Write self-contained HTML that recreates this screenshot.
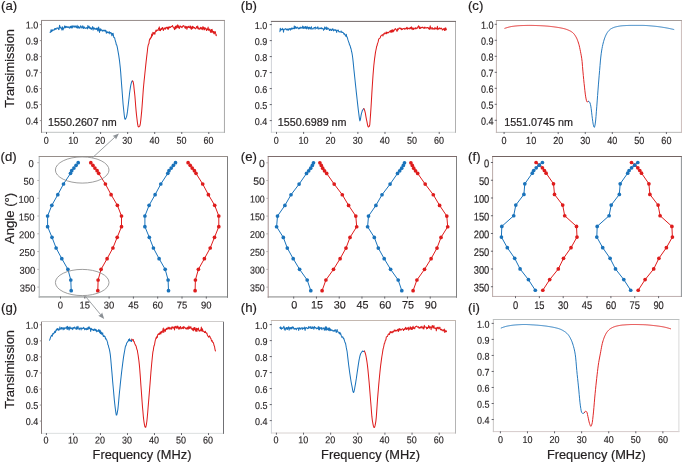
<!DOCTYPE html>
<html lang="en">
<head>
<meta charset="utf-8">
<title>Transmission spectra and angle dependence</title>
<style>
html,body{margin:0;padding:0;background:#fff;}
body{width:685px;height:462px;overflow:hidden;font-family:"Liberation Sans",Arial,Helvetica,sans-serif;}
svg{display:block;}
svg text{font-family:"Liberation Sans",Arial,Helvetica,sans-serif;}
</style>
</head>
<body>
<svg width="685" height="462" viewBox="0 0 685 462" font-family="&quot;Liberation Sans&quot;, Arial, Helvetica, sans-serif">
<polyline points="49.9,32.16 50.3,32.39 50.7,31.62 51.1,29.65 51.5,31.73 51.9,31.02 52.3,29.77 52.7,30.75 53.1,30.34 53.5,30.09 53.9,29.64 54.3,30.02 54.7,28.51 55.1,28.96 55.5,28.48 55.9,29.48 56.3,28.78 56.7,28.32 57.1,27.72 57.5,28.19 57.9,28.4 58.3,28.04 58.7,29.63 59.1,29.26 59.5,25.3 59.9,26.11 60.3,27.86 60.7,27.56 61.1,28.18 61.5,28.14 61.9,30.09 62.3,26.66 62.7,27.39 63.1,29.9 63.5,28.4 63.9,28.38 64.3,27.11 64.7,25.88 65.1,27.75 65.5,27.66 65.9,26.22 66.3,26.76 66.7,27.36 67.1,26.41 67.5,27.26 67.9,27.43 68.3,27.32 68.7,26.72 69.1,27.84 69.5,28.11 69.9,27.48 70.3,26.25 70.7,27.84 71.1,26.52 71.5,27.94 71.9,25.86 72.3,27.93 72.7,26.93 73.1,25.62 73.5,26.59 73.9,26.96 74.3,27.19 74.7,25.87 75.1,25.74 75.5,27.12 75.9,26.43 76.3,27.19 76.7,27.76 77.1,25.25 77.5,27.28 77.9,28.33 78.3,26.76 78.7,26.25 79.1,27.93 79.5,27.44 79.9,28.15 80.3,26.88 80.7,25.73 81.1,27.2 81.5,26.89 81.9,28.2 82.3,27.63 82.7,25.74 83.1,26.23 83.5,28.44 83.9,28.25 84.3,26.89 84.7,27.59 85.1,28.08 85.5,28.13 85.9,28.58 86.3,27.95 86.7,27.61 87.1,27.46 87.5,28.86 87.9,25.41 88.3,27.66 88.7,27.86 89.1,26.36 89.5,28.24 89.9,27.23 90.3,28.85 90.7,27.85 91.1,28.72 91.5,29.34 91.9,28.5 92.3,27.23 92.7,26.61 93.1,30.1 93.5,28.21 93.9,27.68 94.3,28.63 94.7,28.36 95.1,29.55 95.5,28.78 95.9,28.86 96.3,28.19 96.7,29.54 97.1,28.06 97.5,29.95 97.9,30.96 98.3,27.87 98.7,26.99 99.1,30.34 99.5,32.48 99.9,28.86 100.3,28.71 100.7,30.74 101.1,29.35 101.5,29.81 101.9,30.08 102.3,31.11 102.7,30.23 103.1,31.06 103.5,30.69 103.9,30.1 104.3,30.76 104.7,30.22 105.1,31.34 105.5,30.27 105.9,30.43 106.3,33.24 106.7,31.79 107.1,31.92 107.5,32.66 107.9,31.83 108.3,32.19 108.7,33.04 109.1,33.05 109.5,31.73 109.9,33.96 110.3,32.68 110.7,32.41 111.1,32.8 111.5,33.56 111.9,35.83 112.3,33.4 112.7,35.05 113.1,33.35 113.5,35.98 113.9,37.55 114.3,37.43 114.7,38.11 115.1,39.88 115.5,41.37 115.9,42.53 116.3,44.61 116.7,44.99 117.1,46.29 117.5,48.46 117.9,50.57 118.3,52.87 118.7,55.21 119.1,57.88 119.5,60.62 119.9,64.26 120.3,67.82 120.7,72.38 121.1,77.88 121.5,83.29 121.9,88.36 122.3,93.76 122.7,98.96 123.1,104.29 123.5,108.05 123.9,111.74 124.3,115.48 124.7,118.34 125.1,119.2 125.5,119.14 125.9,118.3 126.3,117.41 126.7,116.06 127.1,113.85 127.5,111.38 127.9,107.73 128.3,104.47 128.7,101.01 129.1,97.54 129.5,93.71 129.9,90.74 130.3,88.15 130.7,85.68 131.1,83.94 131.5,82.27 131.9,81.41 132.3,80.9 132.5,81.24" fill="none" stroke="#1a73bb" stroke-width="1.02" stroke-linejoin="round" stroke-linecap="round"/>
<polyline points="132.5,81.02 132.9,81.23 133.3,82.55 133.7,84.91 134.1,88.83 134.5,92.37 134.9,96.05 135.3,101.06 135.7,106.2 136.1,110.91 136.5,114.87 136.9,118.24 137.3,121.66 137.7,124.47 138.1,126.49 138.5,126.88 138.9,126.84 139.3,126.42 139.7,126.13 140.1,125.03 140.5,122.76 140.9,119.16 141.3,115.16 141.7,111.12 142.1,106.04 142.5,100.59 142.9,95 143.3,89.39 143.7,84.97 144.1,80.87 144.5,77.23 144.9,73.28 145.3,69.53 145.7,65.67 146.1,61.89 146.5,58.38 146.9,54.89 147.3,51.73 147.7,47.78 148.1,45.55 148.5,44.18 148.9,43.73 149.3,40.66 149.7,39.24 150.1,38.59 150.5,38.94 150.9,37.09 151.3,37.69 151.7,34.01 152.1,36.12 152.5,35.4 152.9,32.36 153.3,33.41 153.7,34.05 154.1,32.48 154.5,33.1 154.9,34.23 155.3,31.72 155.7,30.86 156.1,30.08 156.5,31.33 156.9,30.21 157.3,30.02 157.7,29.9 158.1,30.52 158.5,28.56 158.9,27.94 159.3,26.87 159.7,30.58 160.1,29.31 160.5,30.73 160.9,29.06 161.3,28.22 161.7,29.44 162.1,28.79 162.5,27.5 162.9,27.83 163.3,30.55 163.7,29.01 164.1,29.02 164.5,28.23 164.9,27.72 165.3,29.31 165.7,28.2 166.1,27.43 166.5,28.01 166.9,27.12 167.3,28.2 167.7,29.1 168.1,26.96 168.5,29.26 168.9,26.99 169.3,27.78 169.7,26.67 170.1,27.24 170.5,27.46 170.9,26.9 171.3,26.56 171.7,26.53 172.1,26.34 172.5,25.51 172.9,26.85 173.3,27.52 173.7,28.03 174.1,27.73 174.5,29.61 174.9,27.35 175.3,26.51 175.7,28.94 176.1,25.85 176.5,27.95 176.9,25.91 177.3,27.27 177.7,24.82 178.1,27.81 178.5,26.69 178.9,25.83 179.3,28.6 179.7,27.63 180.1,26.86 180.5,26.03 180.9,26.76 181.3,26.63 181.7,27.56 182.1,27.64 182.5,26.11 182.9,26.24 183.3,26.27 183.7,25.44 184.1,26.25 184.5,26.81 184.9,27.66 185.3,28.35 185.7,26.15 186.1,27.62 186.5,26.61 186.9,29.3 187.3,27.11 187.7,27.73 188.1,26.27 188.5,26.44 188.9,27.55 189.3,26.97 189.7,27.79 190.1,25.82 190.5,28.19 190.9,26.58 191.3,29.37 191.7,27.29 192.1,28.78 192.5,26.2 192.9,28.15 193.3,26.81 193.7,27.27 194.1,27.84 194.5,27.52 194.9,28.16 195.3,28.71 195.7,28.65 196.1,27.91 196.5,26.61 196.9,27.23 197.3,27.91 197.7,25.93 198.1,28.98 198.5,27.98 198.9,28.01 199.3,29.31 199.7,29.05 200.1,28.61 200.5,27.36 200.9,28.77 201.3,28.84 201.7,27.58 202.1,29.64 202.5,29.11 202.9,26.54 203.3,28.77 203.7,27.34 204.1,29.9 204.5,29.59 204.9,27.63 205.3,27.9 205.7,28.98 206.1,28.67 206.5,30.58 206.9,29.81 207.3,28.8 207.7,29.77 208.1,27.11 208.5,29.67 208.9,30.38 209.3,29.44 209.7,29.06 210.1,30.6 210.5,32.28 210.9,30.67 211.3,29.52 211.7,32.47 212.1,29.24 212.5,32 212.9,31.12 213.3,32.98 213.7,31.41 214.1,34.01 214.5,33.27 214.9,31.56 215.3,31.71 215.7,33.77 216.1,35.75 216.5,35.02" fill="none" stroke="#de1c1c" stroke-width="1.02" stroke-linejoin="round" stroke-linecap="round"/>
<line x1="41" y1="132.3" x2="224.95" y2="132.3" stroke="#c0c4c4" stroke-width="1.0"/>
<line x1="224.45" y1="20.45" x2="224.45" y2="132.8" stroke="#a8a8a8" stroke-width="1.0"/>
<line x1="41.5" y1="20.45" x2="41.5" y2="132.8" stroke="#8c8484" stroke-width="1.0"/>
<line x1="41" y1="20.45" x2="224.95" y2="20.45" stroke="#968c8a" stroke-width="1.0"/>
<line x1="46.5" y1="132" x2="46.5" y2="134" stroke="#55555c" stroke-width="0.9"/>
<text transform="translate(46.2 143.8) scale(0.9 1) rotate(0.03)" font-size="10.0" text-anchor="middle" fill="#231f20" stroke="#231f20" stroke-width="0.15">0</text>
<line x1="73.55" y1="132" x2="73.55" y2="134" stroke="#55555c" stroke-width="0.9"/>
<text transform="translate(73.25 143.8) scale(0.9 1) rotate(0.03)" font-size="10.0" text-anchor="middle" fill="#231f20" stroke="#231f20" stroke-width="0.15">10</text>
<line x1="100.6" y1="132" x2="100.6" y2="134" stroke="#55555c" stroke-width="0.9"/>
<text transform="translate(100.3 143.8) scale(0.9 1) rotate(0.03)" font-size="10.0" text-anchor="middle" fill="#231f20" stroke="#231f20" stroke-width="0.15">20</text>
<line x1="127.65" y1="132" x2="127.65" y2="134" stroke="#55555c" stroke-width="0.9"/>
<text transform="translate(127.35 143.8) scale(0.9 1) rotate(0.03)" font-size="10.0" text-anchor="middle" fill="#231f20" stroke="#231f20" stroke-width="0.15">30</text>
<line x1="154.7" y1="132" x2="154.7" y2="134" stroke="#55555c" stroke-width="0.9"/>
<text transform="translate(154.4 143.8) scale(0.9 1) rotate(0.03)" font-size="10.0" text-anchor="middle" fill="#231f20" stroke="#231f20" stroke-width="0.15">40</text>
<line x1="181.75" y1="132" x2="181.75" y2="134" stroke="#55555c" stroke-width="0.9"/>
<text transform="translate(181.45 143.8) scale(0.9 1) rotate(0.03)" font-size="10.0" text-anchor="middle" fill="#231f20" stroke="#231f20" stroke-width="0.15">50</text>
<line x1="208.8" y1="132" x2="208.8" y2="134" stroke="#55555c" stroke-width="0.9"/>
<text transform="translate(208.5 143.8) scale(0.9 1) rotate(0.03)" font-size="10.0" text-anchor="middle" fill="#231f20" stroke="#231f20" stroke-width="0.15">60</text>
<line x1="39.8" y1="24.6" x2="41" y2="24.6" stroke="#8f8a8a" stroke-width="0.9"/>
<text transform="translate(38.2 28.6) scale(0.9 1) rotate(0.03)" font-size="10.0" text-anchor="end" fill="#231f20" stroke="#231f20" stroke-width="0.15">1.0</text>
<line x1="39.8" y1="40.6" x2="41" y2="40.6" stroke="#8f8a8a" stroke-width="0.9"/>
<text transform="translate(38.2 44.6) scale(0.9 1) rotate(0.03)" font-size="10.0" text-anchor="end" fill="#231f20" stroke="#231f20" stroke-width="0.15">0.9</text>
<line x1="39.8" y1="56.6" x2="41" y2="56.6" stroke="#8f8a8a" stroke-width="0.9"/>
<text transform="translate(38.2 60.6) scale(0.9 1) rotate(0.03)" font-size="10.0" text-anchor="end" fill="#231f20" stroke="#231f20" stroke-width="0.15">0.8</text>
<line x1="39.8" y1="72.6" x2="41" y2="72.6" stroke="#8f8a8a" stroke-width="0.9"/>
<text transform="translate(38.2 76.6) scale(0.9 1) rotate(0.03)" font-size="10.0" text-anchor="end" fill="#231f20" stroke="#231f20" stroke-width="0.15">0.7</text>
<line x1="39.8" y1="88.6" x2="41" y2="88.6" stroke="#8f8a8a" stroke-width="0.9"/>
<text transform="translate(38.2 92.6) scale(0.9 1) rotate(0.03)" font-size="10.0" text-anchor="end" fill="#231f20" stroke="#231f20" stroke-width="0.15">0.6</text>
<line x1="39.8" y1="104.6" x2="41" y2="104.6" stroke="#8f8a8a" stroke-width="0.9"/>
<text transform="translate(38.2 108.6) scale(0.9 1) rotate(0.03)" font-size="10.0" text-anchor="end" fill="#231f20" stroke="#231f20" stroke-width="0.15">0.5</text>
<line x1="39.8" y1="120.6" x2="41" y2="120.6" stroke="#8f8a8a" stroke-width="0.9"/>
<text transform="translate(38.2 124.6) scale(0.9 1) rotate(0.03)" font-size="10.0" text-anchor="end" fill="#231f20" stroke="#231f20" stroke-width="0.15">0.4</text>
<text x="48" y="126" font-size="10.75" text-anchor="start" fill="#231f20" stroke="#231f20" stroke-width="0.2">1550.2607 nm</text>
<text x="1" y="10.3" font-size="13.2" text-anchor="start" fill="#231f20" stroke="#231f20" stroke-width="0.2">(a)</text>
<text x="14.4" y="68.38" font-size="12.85" text-anchor="middle" fill="#231f20" stroke="#231f20" stroke-width="0.2" transform="rotate(-90 14.4 68.38)">Transimission</text>
<polyline points="279.9,31.63 280.3,28.14 280.7,30.32 281.1,29.53 281.5,29.57 281.9,29.7 282.3,28.3 282.7,29.6 283.1,29.07 283.5,32.16 283.9,29.79 284.3,29.31 284.7,29.31 285.1,28.98 285.5,28.64 285.9,29.08 286.3,29.69 286.7,29.1 287.1,29.94 287.5,29.02 287.9,29.14 288.3,30.22 288.7,29.41 289.1,28.55 289.5,28.73 289.9,29.2 290.3,30.18 290.7,28.45 291.1,28.4 291.5,29.26 291.9,27.77 292.3,28.15 292.7,28.96 293.1,28.67 293.5,28.24 293.9,28.61 294.3,25.93 294.7,28.77 295.1,27.24 295.5,26.66 295.9,28.09 296.3,28.37 296.7,27.49 297.1,27 297.5,27.82 297.9,27.76 298.3,28.86 298.7,28.36 299.1,27.95 299.5,28.64 299.9,27.66 300.3,27.13 300.7,28.27 301.1,28.27 301.5,27.68 301.9,27.26 302.3,28.03 302.7,26 303.1,28.4 303.5,28.26 303.9,26.67 304.3,27.95 304.7,27.2 305.1,28.5 305.5,26.41 305.9,27.26 306.3,28.49 306.7,28.84 307.1,26.36 307.5,27.61 307.9,28.24 308.3,27.55 308.7,29.2 309.1,27.13 309.5,28.29 309.9,27.25 310.3,29.1 310.7,28.03 311.1,27.78 311.5,26.77 311.9,29.33 312.3,28.64 312.7,28.65 313.1,28.94 313.5,28.36 313.9,27.62 314.3,27.51 314.7,27.51 315.1,29.15 315.5,27.03 315.9,27.69 316.3,27.9 316.7,28.32 317.1,28.59 317.5,27.23 317.9,26.88 318.3,28.19 318.7,29.11 319.1,28.78 319.5,28.38 319.9,27.99 320.3,28.46 320.7,28.08 321.1,28.88 321.5,27.69 321.9,28.4 322.3,28.23 322.7,28.74 323.1,28.53 323.5,30.3 323.9,29.54 324.3,29.57 324.7,26.95 325.1,28.26 325.5,28.1 325.9,28.99 326.3,26.93 326.7,29.56 327.1,29.53 327.5,27.8 327.9,28.09 328.3,28.28 328.7,28.96 329.1,29.47 329.5,30.58 329.9,28.95 330.3,29.73 330.7,29.33 331.1,30.6 331.5,29.9 331.9,30.44 332.3,28.68 332.7,29.42 333.1,29.04 333.5,30.86 333.9,30.32 334.3,29.69 334.7,29.68 335.1,30.49 335.5,29.7 335.9,29.64 336.3,30.82 336.7,32.42 337.1,30.51 337.5,30.4 337.9,30.07 338.3,30.08 338.7,31.62 339.1,32 339.5,31.52 339.9,31.9 340.3,31.89 340.7,32.06 341.1,30.97 341.5,31.94 341.9,32.55 342.3,32.07 342.7,32.51 343.1,32.48 343.5,33.07 343.9,34.19 344.3,33.56 344.7,34.04 345.1,35.04 345.5,35.27 345.9,36.35 346.3,34.24 346.7,36.82 347.1,36.78 347.5,38.14 347.9,39.63 348.3,40.92 348.7,42.11 349.1,42.92 349.5,44.79 349.9,45.19 350.3,46.45 350.7,48.03 351.1,48.98 351.5,51.24 351.9,52.7 352.3,54.99 352.7,57.71 353.1,61.35 353.5,65.41 353.9,69.5 354.3,73.16 354.7,76.97 355.1,80.71 355.5,84.66 355.9,88.24 356.3,92.14 356.7,95.64 357.1,99.23 357.5,102.89 357.9,106.4 358.3,109.84 358.7,112.94 359.1,116.13 359.5,119.14 359.9,120.87 360.3,120.1 360.7,117.69 361.1,115.13 361.5,113.35 361.9,112.06 362.3,110.6 362.7,109.99 363.1,109.31 363.5,108.96 363.8,108.69" fill="none" stroke="#1a73bb" stroke-width="1.02" stroke-linejoin="round" stroke-linecap="round"/>
<polyline points="363.8,108.64 364.2,109.22 364.6,110.25 365,111.58 365.4,113.44 365.8,115.92 366.2,118.09 366.6,120.04 367,121.93 367.4,124.12 367.8,125.79 368.2,126.9 368.6,126.89 369,126.66 369.4,126.01 369.8,124.53 370.2,119.25 370.6,113.59 371,107.7 371.4,101.06 371.8,94.13 372.2,87.42 372.6,81.46 373,75.59 373.4,70.43 373.8,65.74 374.2,62.08 374.6,58.64 375,55.89 375.4,52.81 375.8,50.77 376.2,48.87 376.6,46.52 377,45.77 377.4,43.9 377.8,42.88 378.2,41.63 378.6,39.52 379,38.75 379.4,38.38 379.8,38.31 380.2,37.8 380.6,36.3 381,35.88 381.4,35.32 381.8,35.08 382.2,34.97 382.6,34.74 383,35.98 383.4,33.94 383.8,33.85 384.2,34.16 384.6,32.93 385,33.15 385.4,33.24 385.8,33.63 386.2,31.91 386.6,33.75 387,32.31 387.4,32.54 387.8,32.9 388.2,32.61 388.6,32.76 389,31.95 389.4,31.67 389.8,31.79 390.2,30.68 390.6,32.21 391,30.59 391.4,30.11 391.8,32.48 392.2,30.72 392.6,29.83 393,31.99 393.4,30.25 393.8,31.19 394.2,29.68 394.6,30.01 395,28.84 395.4,28.58 395.8,29.18 396.2,29.76 396.6,30.32 397,31.44 397.4,28.76 397.8,30.2 398.2,28.9 398.6,29.15 399,28.06 399.4,27.98 399.8,28.43 400.2,28.04 400.6,28.86 401,28.27 401.4,29.67 401.8,28.79 402.2,28.74 402.6,29.42 403,28.92 403.4,28.46 403.8,28.39 404.2,28.33 404.6,29.2 405,28.95 405.4,28.61 405.8,28.91 406.2,27.88 406.6,28.65 407,27.18 407.4,29.23 407.8,28.27 408.2,28.32 408.6,28.61 409,28.13 409.4,27.93 409.8,28.99 410.2,28.17 410.6,27.38 411,28.37 411.4,26.75 411.8,29.25 412.2,27.86 412.6,28 413,29.63 413.4,29.53 413.8,27.98 414.2,28.34 414.6,28.66 415,29.08 415.4,27.7 415.8,27.87 416.2,28.67 416.6,27.93 417,28.27 417.4,28.14 417.8,26.82 418.2,27.01 418.6,25.65 419,27.43 419.4,28.62 419.8,26.77 420.2,28.53 420.6,28.35 421,27.56 421.4,27.6 421.8,27.68 422.2,26.98 422.6,27.42 423,27.62 423.4,28.13 423.8,28.28 424.2,27.15 424.6,28.35 425,27.17 425.4,27.65 425.8,28.08 426.2,27.81 426.6,27.75 427,28.07 427.4,27.48 427.8,27.43 428.2,27.79 428.6,28.69 429,27.91 429.4,29.44 429.8,28.19 430.2,25.82 430.6,27.74 431,29.34 431.4,28.12 431.8,27.8 432.2,27.5 432.6,29.16 433,28.94 433.4,28.72 433.8,28.56 434.2,29.34 434.6,28.9 435,27.38 435.4,28.9 435.8,28.48 436.2,28.3 436.6,28.98 437,28.45 437.4,26.26 437.8,29.66 438.2,29.3 438.6,28.46 439,28.31 439.4,28.8 439.8,27.7 440.2,28.94 440.6,28.57 441,28.53 441.4,28.14 441.8,28.37 442.2,29.76 442.6,29.98 443,29.4 443.4,29.04 443.8,28.47 444.2,29.72 444.6,30.44 445,28.08 445.4,30.22 445.8,27.78 446.2,29.2 446.5,29.79" fill="none" stroke="#de1c1c" stroke-width="1.02" stroke-linejoin="round" stroke-linecap="round"/>
<line x1="270.9" y1="132.25" x2="456" y2="132.25" stroke="#d7dada" stroke-width="1.0"/>
<line x1="455.5" y1="21.4" x2="455.5" y2="132.75" stroke="#b0b0b0" stroke-width="1.0"/>
<line x1="271.4" y1="21.4" x2="271.4" y2="132.75" stroke="#d0d3d8" stroke-width="1.0"/>
<line x1="270.9" y1="21.4" x2="456" y2="21.4" stroke="#6e6464" stroke-width="1.0"/>
<line x1="276.5" y1="131.95" x2="276.5" y2="133.95" stroke="#55555c" stroke-width="0.9"/>
<text transform="translate(276.3 143.75) scale(0.9 1) rotate(0.03)" font-size="10.0" text-anchor="middle" fill="#231f20" stroke="#231f20" stroke-width="0.15">0</text>
<line x1="303.62" y1="131.95" x2="303.62" y2="133.95" stroke="#55555c" stroke-width="0.9"/>
<text transform="translate(303.42 143.75) scale(0.9 1) rotate(0.03)" font-size="10.0" text-anchor="middle" fill="#231f20" stroke="#231f20" stroke-width="0.15">10</text>
<line x1="330.74" y1="131.95" x2="330.74" y2="133.95" stroke="#55555c" stroke-width="0.9"/>
<text transform="translate(330.54 143.75) scale(0.9 1) rotate(0.03)" font-size="10.0" text-anchor="middle" fill="#231f20" stroke="#231f20" stroke-width="0.15">20</text>
<line x1="357.86" y1="131.95" x2="357.86" y2="133.95" stroke="#55555c" stroke-width="0.9"/>
<text transform="translate(357.66 143.75) scale(0.9 1) rotate(0.03)" font-size="10.0" text-anchor="middle" fill="#231f20" stroke="#231f20" stroke-width="0.15">30</text>
<line x1="384.98" y1="131.95" x2="384.98" y2="133.95" stroke="#55555c" stroke-width="0.9"/>
<text transform="translate(384.78 143.75) scale(0.9 1) rotate(0.03)" font-size="10.0" text-anchor="middle" fill="#231f20" stroke="#231f20" stroke-width="0.15">40</text>
<line x1="412.1" y1="131.95" x2="412.1" y2="133.95" stroke="#55555c" stroke-width="0.9"/>
<text transform="translate(411.9 143.75) scale(0.9 1) rotate(0.03)" font-size="10.0" text-anchor="middle" fill="#231f20" stroke="#231f20" stroke-width="0.15">50</text>
<line x1="439.22" y1="131.95" x2="439.22" y2="133.95" stroke="#55555c" stroke-width="0.9"/>
<text transform="translate(439.02 143.75) scale(0.9 1) rotate(0.03)" font-size="10.0" text-anchor="middle" fill="#231f20" stroke="#231f20" stroke-width="0.15">60</text>
<line x1="269.7" y1="24.6" x2="271.8" y2="24.6" stroke="#55555c" stroke-width="0.9"/>
<text transform="translate(267.2 28.9) scale(0.9 1) rotate(0.03)" font-size="10.0" text-anchor="end" fill="#231f20" stroke="#231f20" stroke-width="0.15">1.0</text>
<line x1="269.7" y1="40.6" x2="271.8" y2="40.6" stroke="#55555c" stroke-width="0.9"/>
<text transform="translate(267.2 44.9) scale(0.9 1) rotate(0.03)" font-size="10.0" text-anchor="end" fill="#231f20" stroke="#231f20" stroke-width="0.15">0.9</text>
<line x1="269.7" y1="56.6" x2="271.8" y2="56.6" stroke="#55555c" stroke-width="0.9"/>
<text transform="translate(267.2 60.9) scale(0.9 1) rotate(0.03)" font-size="10.0" text-anchor="end" fill="#231f20" stroke="#231f20" stroke-width="0.15">0.8</text>
<line x1="269.7" y1="72.6" x2="271.8" y2="72.6" stroke="#55555c" stroke-width="0.9"/>
<text transform="translate(267.2 76.9) scale(0.9 1) rotate(0.03)" font-size="10.0" text-anchor="end" fill="#231f20" stroke="#231f20" stroke-width="0.15">0.7</text>
<line x1="269.7" y1="88.6" x2="271.8" y2="88.6" stroke="#55555c" stroke-width="0.9"/>
<text transform="translate(267.2 92.9) scale(0.9 1) rotate(0.03)" font-size="10.0" text-anchor="end" fill="#231f20" stroke="#231f20" stroke-width="0.15">0.6</text>
<line x1="269.7" y1="104.6" x2="271.8" y2="104.6" stroke="#55555c" stroke-width="0.9"/>
<text transform="translate(267.2 108.9) scale(0.9 1) rotate(0.03)" font-size="10.0" text-anchor="end" fill="#231f20" stroke="#231f20" stroke-width="0.15">0.5</text>
<line x1="269.7" y1="120.6" x2="271.8" y2="120.6" stroke="#55555c" stroke-width="0.9"/>
<text transform="translate(267.2 124.9) scale(0.9 1) rotate(0.03)" font-size="10.0" text-anchor="end" fill="#231f20" stroke="#231f20" stroke-width="0.15">0.4</text>
<text x="277.8" y="126" font-size="10.75" text-anchor="start" fill="#231f20" stroke="#231f20" stroke-width="0.2">1550.6989 nm</text>
<text x="240.8" y="10.3" font-size="13.2" text-anchor="start" fill="#231f20" stroke="#231f20" stroke-width="0.2">(b)</text>
<polyline points="504.9,28.3 505.3,28.17 505.7,28.04 506.1,27.91 506.5,27.78 506.9,27.66 507.3,27.54 507.7,27.42 508.1,27.31 508.5,27.2 508.9,27.09 509.3,26.99 509.7,26.89 510.1,26.8 510.5,26.71 510.9,26.63 511.3,26.56 511.7,26.49 512.1,26.43 512.5,26.37 512.9,26.32 513.3,26.27 513.7,26.22 514.1,26.17 514.5,26.12 514.9,26.07 515.3,26.03 515.7,25.99 516.1,25.94 516.5,25.91 516.9,25.87 517.3,25.83 517.7,25.8 518.1,25.77 518.5,25.74 518.9,25.71 519.3,25.68 519.7,25.66 520.1,25.64 520.5,25.62 520.9,25.6 521.3,25.59 521.7,25.57 522.1,25.56 522.5,25.55 522.9,25.53 523.3,25.52 523.7,25.51 524.1,25.49 524.5,25.48 524.9,25.47 525.3,25.46 525.7,25.45 526.1,25.44 526.5,25.43 526.9,25.43 527.3,25.42 527.7,25.41 528.1,25.41 528.5,25.4 528.9,25.4 529.3,25.4 529.7,25.4 530.1,25.4 530.5,25.4 530.9,25.41 531.3,25.41 531.7,25.42 532.1,25.42 532.5,25.43 532.9,25.44 533.3,25.45 533.7,25.46 534.1,25.47 534.5,25.48 534.9,25.49 535.3,25.5 535.7,25.51 536.1,25.53 536.5,25.54 536.9,25.55 537.3,25.57 537.7,25.58 538.1,25.59 538.5,25.61 538.9,25.62 539.3,25.64 539.7,25.65 540.1,25.67 540.5,25.69 540.9,25.71 541.3,25.73 541.7,25.75 542.1,25.77 542.5,25.8 542.9,25.82 543.3,25.85 543.7,25.87 544.1,25.9 544.5,25.92 544.9,25.95 545.3,25.98 545.7,26.01 546.1,26.04 546.5,26.07 546.9,26.1 547.3,26.13 547.7,26.17 548.1,26.2 548.5,26.24 548.9,26.28 549.3,26.32 549.7,26.36 550.1,26.4 550.5,26.44 550.9,26.49 551.3,26.54 551.7,26.58 552.1,26.63 552.5,26.68 552.9,26.73 553.3,26.78 553.7,26.84 554.1,26.89 554.5,26.95 554.9,27 555.3,27.06 555.7,27.11 556.1,27.17 556.5,27.23 556.9,27.29 557.3,27.35 557.7,27.41 558.1,27.48 558.5,27.54 558.9,27.61 559.3,27.67 559.7,27.74 560.1,27.82 560.5,27.89 560.9,27.97 561.3,28.05 561.7,28.13 562.1,28.21 562.5,28.3 562.9,28.39 563.3,28.48 563.7,28.58 564.1,28.67 564.5,28.78 564.9,28.89 565.3,29.01 565.7,29.13 566.1,29.26 566.5,29.4 566.9,29.55 567.3,29.7 567.7,29.86 568.1,30.02 568.5,30.19 568.9,30.37 569.3,30.55 569.7,30.74 570.1,30.94 570.5,31.15 570.9,31.38 571.3,31.62 571.7,31.88 572.1,32.16 572.5,32.47 572.9,32.8 573.3,33.17 573.7,33.6 574.1,34.07 574.5,34.6 574.9,35.17 575.3,35.78 575.7,36.44 576.1,37.14 576.5,37.88 576.9,38.72 577.3,39.66 577.7,40.7 578.1,41.84 578.5,43.07 578.9,44.4 579.3,45.92 579.7,47.69 580.1,49.63 580.5,51.68 580.9,53.73 581.3,55.82 581.7,58.26 582.1,61.43 582.5,66.43 582.9,71.11 583.3,75.42 583.7,79.54 584.1,83.44 584.5,87.1 584.9,90.74 585.3,94.13 585.7,96.87 586.1,98.93 586.5,100.75 586.9,101.75 587.3,101.8 587.7,101.75 588.1,101.61 588.4,101.4" fill="none" stroke="#de1c1c" stroke-width="0.95" stroke-linejoin="round" stroke-linecap="round"/>
<polyline points="588.4,101.4 588.8,101.49 589.2,101.74 589.6,102.1 590,102.9 590.4,104.32 590.8,106.1 591.2,108.69 591.6,112.17 592,115.74 592.4,118.77 592.8,121.73 593.2,124.22 593.6,125.83 594,127.04 594.4,127.34 594.8,126.12 595.2,123.98 595.6,121.03 596,116.45 596.4,111.23 596.8,106.21 597.2,100.94 597.6,95.5 598,90.09 598.4,84.94 598.8,80.01 599.2,75.2 599.6,70.5 600,65.68 600.4,60.97 600.8,57 601.2,53.81 601.6,50.99 602,48.56 602.4,46.52 602.8,44.7 603.2,43.03 603.6,41.51 604,40.13 604.4,38.89 604.8,37.76 605.2,36.74 605.6,35.79 606,34.91 606.4,34.11 606.8,33.38 607.2,32.73 607.6,32.17 608,31.64 608.4,31.15 608.8,30.69 609.2,30.26 609.6,29.87 610,29.51 610.4,29.2 610.8,28.92 611.2,28.69 611.6,28.47 612,28.26 612.4,28.07 612.8,27.89 613.2,27.72 613.6,27.56 614,27.41 614.4,27.27 614.8,27.15 615.2,27.03 615.6,26.92 616,26.82 616.4,26.73 616.8,26.64 617.2,26.56 617.6,26.47 618,26.39 618.4,26.31 618.8,26.24 619.2,26.17 619.6,26.1 620,26.04 620.4,25.98 620.8,25.92 621.2,25.87 621.6,25.83 622,25.79 622.4,25.75 622.8,25.72 623.2,25.69 623.6,25.67 624,25.65 624.4,25.63 624.8,25.61 625.2,25.59 625.6,25.57 626,25.55 626.4,25.53 626.8,25.51 627.2,25.49 627.6,25.48 628,25.47 628.4,25.45 628.8,25.44 629.2,25.43 629.6,25.42 630,25.41 630.4,25.41 630.8,25.4 631.2,25.4 631.6,25.4 632,25.4 632.4,25.4 632.8,25.4 633.2,25.4 633.6,25.4 634,25.4 634.4,25.4 634.8,25.4 635.2,25.4 635.6,25.4 636,25.4 636.4,25.4 636.8,25.4 637.2,25.4 637.6,25.4 638,25.4 638.4,25.4 638.8,25.4 639.2,25.4 639.6,25.4 640,25.4 640.4,25.4 640.8,25.4 641.2,25.4 641.6,25.4 642,25.4 642.4,25.4 642.8,25.4 643.2,25.41 643.6,25.42 644,25.43 644.4,25.44 644.8,25.46 645.2,25.48 645.6,25.5 646,25.52 646.4,25.54 646.8,25.57 647.2,25.6 647.6,25.62 648,25.65 648.4,25.68 648.8,25.72 649.2,25.75 649.6,25.78 650,25.82 650.4,25.85 650.8,25.89 651.2,25.93 651.6,25.96 652,26 652.4,26.04 652.8,26.07 653.2,26.11 653.6,26.15 654,26.18 654.4,26.22 654.8,26.26 655.2,26.3 655.6,26.34 656,26.38 656.4,26.42 656.8,26.47 657.2,26.52 657.6,26.57 658,26.62 658.4,26.67 658.8,26.72 659.2,26.78 659.6,26.83 660,26.89 660.4,26.95 660.8,27 661.2,27.06 661.6,27.12 662,27.19 662.4,27.25 662.8,27.31 663.2,27.37 663.6,27.44 664,27.5 664.4,27.57 664.8,27.63 665.2,27.7 665.6,27.77 666,27.84 666.4,27.91 666.8,27.99 667.2,28.06 667.6,28.14 668,28.22 668.4,28.3 668.8,28.38 669.2,28.46 669.6,28.55 670,28.63 670.4,28.72 670.8,28.81 671.2,28.9 671.6,28.99 672,29.08 672.4,29.17 672.8,29.26 673.2,29.36 673.6,29.45 673.8,29.5" fill="none" stroke="#1a73bb" stroke-width="0.95" stroke-linejoin="round" stroke-linecap="round"/>
<line x1="495.9" y1="132.35" x2="681.95" y2="132.35" stroke="#b9b9b7" stroke-width="1.0"/>
<line x1="681.45" y1="20.5" x2="681.45" y2="132.85" stroke="#cdbebc" stroke-width="1.0"/>
<line x1="496.4" y1="20.5" x2="496.4" y2="132.85" stroke="#c2b4b2" stroke-width="1.0"/>
<line x1="495.9" y1="20.5" x2="681.95" y2="20.5" stroke="#a59b98" stroke-width="1.0"/>
<line x1="504.1" y1="132.05" x2="504.1" y2="134.05" stroke="#55555c" stroke-width="0.9"/>
<text transform="translate(504.1 143.95) scale(0.88 1) rotate(0.03)" font-size="10.3" text-anchor="middle" fill="#231f20" stroke="#231f20" stroke-width="0.15">0</text>
<line x1="531.15" y1="132.05" x2="531.15" y2="134.05" stroke="#55555c" stroke-width="0.9"/>
<text transform="translate(531.15 143.95) scale(0.88 1) rotate(0.03)" font-size="10.3" text-anchor="middle" fill="#231f20" stroke="#231f20" stroke-width="0.15">10</text>
<line x1="558.2" y1="132.05" x2="558.2" y2="134.05" stroke="#55555c" stroke-width="0.9"/>
<text transform="translate(558.2 143.95) scale(0.88 1) rotate(0.03)" font-size="10.3" text-anchor="middle" fill="#231f20" stroke="#231f20" stroke-width="0.15">20</text>
<line x1="585.25" y1="132.05" x2="585.25" y2="134.05" stroke="#55555c" stroke-width="0.9"/>
<text transform="translate(585.25 143.95) scale(0.88 1) rotate(0.03)" font-size="10.3" text-anchor="middle" fill="#231f20" stroke="#231f20" stroke-width="0.15">30</text>
<line x1="612.3" y1="132.05" x2="612.3" y2="134.05" stroke="#55555c" stroke-width="0.9"/>
<text transform="translate(612.3 143.95) scale(0.88 1) rotate(0.03)" font-size="10.3" text-anchor="middle" fill="#231f20" stroke="#231f20" stroke-width="0.15">40</text>
<line x1="639.35" y1="132.05" x2="639.35" y2="134.05" stroke="#55555c" stroke-width="0.9"/>
<text transform="translate(639.35 143.95) scale(0.88 1) rotate(0.03)" font-size="10.3" text-anchor="middle" fill="#231f20" stroke="#231f20" stroke-width="0.15">50</text>
<line x1="666.4" y1="132.05" x2="666.4" y2="134.05" stroke="#55555c" stroke-width="0.9"/>
<text transform="translate(666.4 143.95) scale(0.88 1) rotate(0.03)" font-size="10.3" text-anchor="middle" fill="#231f20" stroke="#231f20" stroke-width="0.15">60</text>
<line x1="494.7" y1="24.3" x2="496.8" y2="24.3" stroke="#55555c" stroke-width="0.9"/>
<text transform="translate(493.5 28.7) scale(0.88 1) rotate(0.03)" font-size="10.3" text-anchor="end" fill="#231f20" stroke="#231f20" stroke-width="0.15">1.0</text>
<line x1="494.7" y1="40.3" x2="496.8" y2="40.3" stroke="#55555c" stroke-width="0.9"/>
<text transform="translate(493.5 44.7) scale(0.88 1) rotate(0.03)" font-size="10.3" text-anchor="end" fill="#231f20" stroke="#231f20" stroke-width="0.15">0.9</text>
<line x1="494.7" y1="56.3" x2="496.8" y2="56.3" stroke="#55555c" stroke-width="0.9"/>
<text transform="translate(493.5 60.7) scale(0.88 1) rotate(0.03)" font-size="10.3" text-anchor="end" fill="#231f20" stroke="#231f20" stroke-width="0.15">0.8</text>
<line x1="494.7" y1="72.3" x2="496.8" y2="72.3" stroke="#55555c" stroke-width="0.9"/>
<text transform="translate(493.5 76.7) scale(0.88 1) rotate(0.03)" font-size="10.3" text-anchor="end" fill="#231f20" stroke="#231f20" stroke-width="0.15">0.7</text>
<line x1="494.7" y1="88.3" x2="496.8" y2="88.3" stroke="#55555c" stroke-width="0.9"/>
<text transform="translate(493.5 92.7) scale(0.88 1) rotate(0.03)" font-size="10.3" text-anchor="end" fill="#231f20" stroke="#231f20" stroke-width="0.15">0.6</text>
<line x1="494.7" y1="104.3" x2="496.8" y2="104.3" stroke="#55555c" stroke-width="0.9"/>
<text transform="translate(493.5 108.7) scale(0.88 1) rotate(0.03)" font-size="10.3" text-anchor="end" fill="#231f20" stroke="#231f20" stroke-width="0.15">0.5</text>
<line x1="494.7" y1="120.3" x2="496.8" y2="120.3" stroke="#55555c" stroke-width="0.9"/>
<text transform="translate(493.5 124.7) scale(0.88 1) rotate(0.03)" font-size="10.3" text-anchor="end" fill="#231f20" stroke="#231f20" stroke-width="0.15">0.4</text>
<text x="504.2" y="126" font-size="10.75" text-anchor="start" fill="#231f20" stroke="#231f20" stroke-width="0.2">1551.0745 nm</text>
<text x="467.9" y="10.3" font-size="13.2" text-anchor="start" fill="#231f20" stroke="#231f20" stroke-width="0.2">(c)</text>
<polyline points="90.8,162.7 92.9,165.37 94.9,168.03 97.1,170.7 98.7,173.36 105.4,184.02 111.1,194.69 117.4,205.35 121.5,216.01 121.5,226.67 117.2,237.33 112.9,248 107.1,258.66 101.1,269.32 98.1,279.98 97.8,290.64" fill="none" stroke="#de1c1c" stroke-width="1.0" stroke-linejoin="round" stroke-linecap="round"/>
<circle cx="90.8" cy="162.7" r="1.85" fill="#de1c1c"/>
<circle cx="92.9" cy="165.37" r="1.85" fill="#de1c1c"/>
<circle cx="94.9" cy="168.03" r="1.85" fill="#de1c1c"/>
<circle cx="97.1" cy="170.7" r="1.85" fill="#de1c1c"/>
<circle cx="98.7" cy="173.36" r="1.85" fill="#de1c1c"/>
<circle cx="105.4" cy="184.02" r="1.85" fill="#de1c1c"/>
<circle cx="111.1" cy="194.69" r="1.85" fill="#de1c1c"/>
<circle cx="117.4" cy="205.35" r="1.85" fill="#de1c1c"/>
<circle cx="121.5" cy="216.01" r="1.85" fill="#de1c1c"/>
<circle cx="121.5" cy="226.67" r="1.85" fill="#de1c1c"/>
<circle cx="117.2" cy="237.33" r="1.85" fill="#de1c1c"/>
<circle cx="112.9" cy="248" r="1.85" fill="#de1c1c"/>
<circle cx="107.1" cy="258.66" r="1.85" fill="#de1c1c"/>
<circle cx="101.1" cy="269.32" r="1.85" fill="#de1c1c"/>
<circle cx="98.1" cy="279.98" r="1.85" fill="#de1c1c"/>
<circle cx="97.8" cy="290.64" r="1.85" fill="#de1c1c"/>
<polyline points="78.2,162.7 76.1,165.37 73.9,168.03 71.7,170.7 70.5,173.36 63.5,184.02 57.8,194.69 51.8,205.35 47.6,216.01 47.6,226.67 52,237.33 56.1,248 61.8,258.66 67.9,269.32 70.8,279.98 71.2,290.64" fill="none" stroke="#1a73bb" stroke-width="1.0" stroke-linejoin="round" stroke-linecap="round"/>
<circle cx="78.2" cy="162.7" r="1.85" fill="#1a73bb"/>
<circle cx="76.1" cy="165.37" r="1.85" fill="#1a73bb"/>
<circle cx="73.9" cy="168.03" r="1.85" fill="#1a73bb"/>
<circle cx="71.7" cy="170.7" r="1.85" fill="#1a73bb"/>
<circle cx="70.5" cy="173.36" r="1.85" fill="#1a73bb"/>
<circle cx="63.5" cy="184.02" r="1.85" fill="#1a73bb"/>
<circle cx="57.8" cy="194.69" r="1.85" fill="#1a73bb"/>
<circle cx="51.8" cy="205.35" r="1.85" fill="#1a73bb"/>
<circle cx="47.6" cy="216.01" r="1.85" fill="#1a73bb"/>
<circle cx="47.6" cy="226.67" r="1.85" fill="#1a73bb"/>
<circle cx="52" cy="237.33" r="1.85" fill="#1a73bb"/>
<circle cx="56.1" cy="248" r="1.85" fill="#1a73bb"/>
<circle cx="61.8" cy="258.66" r="1.85" fill="#1a73bb"/>
<circle cx="67.9" cy="269.32" r="1.85" fill="#1a73bb"/>
<circle cx="70.8" cy="279.98" r="1.85" fill="#1a73bb"/>
<circle cx="71.2" cy="290.64" r="1.85" fill="#1a73bb"/>
<polyline points="188.1,162.7 190.2,165.37 192.2,168.03 194.4,170.7 196,173.36 202.7,184.02 208.4,194.69 214.7,205.35 218.8,216.01 218.8,226.67 214.5,237.33 210.2,248 204.4,258.66 198.4,269.32 195.4,279.98 195.1,290.64" fill="none" stroke="#de1c1c" stroke-width="1.0" stroke-linejoin="round" stroke-linecap="round"/>
<circle cx="188.1" cy="162.7" r="1.85" fill="#de1c1c"/>
<circle cx="190.2" cy="165.37" r="1.85" fill="#de1c1c"/>
<circle cx="192.2" cy="168.03" r="1.85" fill="#de1c1c"/>
<circle cx="194.4" cy="170.7" r="1.85" fill="#de1c1c"/>
<circle cx="196" cy="173.36" r="1.85" fill="#de1c1c"/>
<circle cx="202.7" cy="184.02" r="1.85" fill="#de1c1c"/>
<circle cx="208.4" cy="194.69" r="1.85" fill="#de1c1c"/>
<circle cx="214.7" cy="205.35" r="1.85" fill="#de1c1c"/>
<circle cx="218.8" cy="216.01" r="1.85" fill="#de1c1c"/>
<circle cx="218.8" cy="226.67" r="1.85" fill="#de1c1c"/>
<circle cx="214.5" cy="237.33" r="1.85" fill="#de1c1c"/>
<circle cx="210.2" cy="248" r="1.85" fill="#de1c1c"/>
<circle cx="204.4" cy="258.66" r="1.85" fill="#de1c1c"/>
<circle cx="198.4" cy="269.32" r="1.85" fill="#de1c1c"/>
<circle cx="195.4" cy="279.98" r="1.85" fill="#de1c1c"/>
<circle cx="195.1" cy="290.64" r="1.85" fill="#de1c1c"/>
<polyline points="175.5,162.7 173.4,165.37 171.2,168.03 169,170.7 167.8,173.36 160.8,184.02 155.1,194.69 149.1,205.35 144.9,216.01 144.9,226.67 149.3,237.33 153.4,248 159.1,258.66 165.2,269.32 168.1,279.98 168.5,290.64" fill="none" stroke="#1a73bb" stroke-width="1.0" stroke-linejoin="round" stroke-linecap="round"/>
<circle cx="175.5" cy="162.7" r="1.85" fill="#1a73bb"/>
<circle cx="173.4" cy="165.37" r="1.85" fill="#1a73bb"/>
<circle cx="171.2" cy="168.03" r="1.85" fill="#1a73bb"/>
<circle cx="169" cy="170.7" r="1.85" fill="#1a73bb"/>
<circle cx="167.8" cy="173.36" r="1.85" fill="#1a73bb"/>
<circle cx="160.8" cy="184.02" r="1.85" fill="#1a73bb"/>
<circle cx="155.1" cy="194.69" r="1.85" fill="#1a73bb"/>
<circle cx="149.1" cy="205.35" r="1.85" fill="#1a73bb"/>
<circle cx="144.9" cy="216.01" r="1.85" fill="#1a73bb"/>
<circle cx="144.9" cy="226.67" r="1.85" fill="#1a73bb"/>
<circle cx="149.3" cy="237.33" r="1.85" fill="#1a73bb"/>
<circle cx="153.4" cy="248" r="1.85" fill="#1a73bb"/>
<circle cx="159.1" cy="258.66" r="1.85" fill="#1a73bb"/>
<circle cx="165.2" cy="269.32" r="1.85" fill="#1a73bb"/>
<circle cx="168.1" cy="279.98" r="1.85" fill="#1a73bb"/>
<circle cx="168.5" cy="290.64" r="1.85" fill="#1a73bb"/>
<line x1="38.7" y1="296.9" x2="228" y2="296.9" stroke="#b4b7b7" stroke-width="1.7"/>
<line x1="227.5" y1="156.5" x2="227.5" y2="297.75" stroke="#7d7d7d" stroke-width="1.0"/>
<line x1="39.2" y1="156.5" x2="39.2" y2="297.75" stroke="#afb4b9" stroke-width="1.0"/>
<line x1="38.7" y1="156.5" x2="228" y2="156.5" stroke="#968e8a" stroke-width="1.0"/>
<line x1="60.5" y1="296.6" x2="60.5" y2="298.6" stroke="#55555c" stroke-width="0.9"/>
<text transform="translate(60.5 308.4) scale(0.945 1) rotate(0.03)" font-size="10.0" text-anchor="middle" fill="#231f20" stroke="#231f20" stroke-width="0.15">0</text>
<line x1="84.8" y1="296.6" x2="84.8" y2="298.6" stroke="#55555c" stroke-width="0.9"/>
<text transform="translate(84.8 308.4) scale(0.945 1) rotate(0.03)" font-size="10.0" text-anchor="middle" fill="#231f20" stroke="#231f20" stroke-width="0.15">15</text>
<line x1="109.1" y1="296.6" x2="109.1" y2="298.6" stroke="#55555c" stroke-width="0.9"/>
<text transform="translate(109.1 308.4) scale(0.945 1) rotate(0.03)" font-size="10.0" text-anchor="middle" fill="#231f20" stroke="#231f20" stroke-width="0.15">30</text>
<line x1="133.4" y1="296.6" x2="133.4" y2="298.6" stroke="#55555c" stroke-width="0.9"/>
<text transform="translate(133.4 308.4) scale(0.945 1) rotate(0.03)" font-size="10.0" text-anchor="middle" fill="#231f20" stroke="#231f20" stroke-width="0.15">45</text>
<line x1="157.7" y1="296.6" x2="157.7" y2="298.6" stroke="#55555c" stroke-width="0.9"/>
<text transform="translate(157.7 308.4) scale(0.945 1) rotate(0.03)" font-size="10.0" text-anchor="middle" fill="#231f20" stroke="#231f20" stroke-width="0.15">60</text>
<line x1="182" y1="296.6" x2="182" y2="298.6" stroke="#55555c" stroke-width="0.9"/>
<text transform="translate(182 308.4) scale(0.945 1) rotate(0.03)" font-size="10.0" text-anchor="middle" fill="#231f20" stroke="#231f20" stroke-width="0.15">75</text>
<line x1="206.3" y1="296.6" x2="206.3" y2="298.6" stroke="#55555c" stroke-width="0.9"/>
<text transform="translate(206.3 308.4) scale(0.945 1) rotate(0.03)" font-size="10.0" text-anchor="middle" fill="#231f20" stroke="#231f20" stroke-width="0.15">90</text>
<line x1="37.5" y1="162.7" x2="38.7" y2="162.7" stroke="#8f8a8a" stroke-width="0.9"/>
<text transform="translate(33.7 167.1) scale(0.945 1) rotate(0.03)" font-size="10.0" text-anchor="end" fill="#231f20" stroke="#231f20" stroke-width="0.15">0</text>
<line x1="37.5" y1="180.47" x2="38.7" y2="180.47" stroke="#8f8a8a" stroke-width="0.9"/>
<text transform="translate(33.96 184.87) scale(0.945 1) rotate(0.03)" font-size="10.0" text-anchor="end" fill="#231f20" stroke="#231f20" stroke-width="0.15">50</text>
<line x1="37.5" y1="198.24" x2="38.7" y2="198.24" stroke="#8f8a8a" stroke-width="0.9"/>
<text transform="translate(34.21 202.64) scale(0.945 1) rotate(0.03)" font-size="10.0" text-anchor="end" fill="#231f20" stroke="#231f20" stroke-width="0.15">100</text>
<line x1="37.5" y1="216.01" x2="38.7" y2="216.01" stroke="#8f8a8a" stroke-width="0.9"/>
<text transform="translate(34.47 220.41) scale(0.945 1) rotate(0.03)" font-size="10.0" text-anchor="end" fill="#231f20" stroke="#231f20" stroke-width="0.15">150</text>
<line x1="37.5" y1="233.78" x2="38.7" y2="233.78" stroke="#8f8a8a" stroke-width="0.9"/>
<text transform="translate(34.73 238.18) scale(0.945 1) rotate(0.03)" font-size="10.0" text-anchor="end" fill="#231f20" stroke="#231f20" stroke-width="0.15">200</text>
<line x1="37.5" y1="251.55" x2="38.7" y2="251.55" stroke="#8f8a8a" stroke-width="0.9"/>
<text transform="translate(34.99 255.95) scale(0.945 1) rotate(0.03)" font-size="10.0" text-anchor="end" fill="#231f20" stroke="#231f20" stroke-width="0.15">250</text>
<line x1="37.5" y1="269.32" x2="38.7" y2="269.32" stroke="#8f8a8a" stroke-width="0.9"/>
<text transform="translate(35.24 273.72) scale(0.945 1) rotate(0.03)" font-size="10.0" text-anchor="end" fill="#231f20" stroke="#231f20" stroke-width="0.15">300</text>
<line x1="37.5" y1="287.09" x2="38.7" y2="287.09" stroke="#8f8a8a" stroke-width="0.9"/>
<text transform="translate(35.5 291.49) scale(0.945 1) rotate(0.03)" font-size="10.0" text-anchor="end" fill="#231f20" stroke="#231f20" stroke-width="0.15">350</text>
<text x="0.6" y="160.6" font-size="13.2" text-anchor="start" fill="#231f20" stroke="#231f20" stroke-width="0.2">(d)</text>
<text x="14.2" y="218.4" font-size="13.1" text-anchor="middle" fill="#231f20" stroke="#231f20" stroke-width="0.2" transform="rotate(-90 14.2 218.4)">Angle (°)</text>
<polyline points="319.9,162.8 321.3,165.46 322.7,168.13 324.5,170.79 326.7,173.46 334.2,184.11 342.3,194.77 348.6,205.42 355.8,216.08 356.7,226.74 350,237.39 346,248.05 340.1,258.7 333.5,269.36 325.9,280.02 322.1,290.67" fill="none" stroke="#de1c1c" stroke-width="1.0" stroke-linejoin="round" stroke-linecap="round"/>
<circle cx="319.9" cy="162.8" r="1.85" fill="#de1c1c"/>
<circle cx="321.3" cy="165.46" r="1.85" fill="#de1c1c"/>
<circle cx="322.7" cy="168.13" r="1.85" fill="#de1c1c"/>
<circle cx="324.5" cy="170.79" r="1.85" fill="#de1c1c"/>
<circle cx="326.7" cy="173.46" r="1.85" fill="#de1c1c"/>
<circle cx="334.2" cy="184.11" r="1.85" fill="#de1c1c"/>
<circle cx="342.3" cy="194.77" r="1.85" fill="#de1c1c"/>
<circle cx="348.6" cy="205.42" r="1.85" fill="#de1c1c"/>
<circle cx="355.8" cy="216.08" r="1.85" fill="#de1c1c"/>
<circle cx="356.7" cy="226.74" r="1.85" fill="#de1c1c"/>
<circle cx="350" cy="237.39" r="1.85" fill="#de1c1c"/>
<circle cx="346" cy="248.05" r="1.85" fill="#de1c1c"/>
<circle cx="340.1" cy="258.7" r="1.85" fill="#de1c1c"/>
<circle cx="333.5" cy="269.36" r="1.85" fill="#de1c1c"/>
<circle cx="325.9" cy="280.02" r="1.85" fill="#de1c1c"/>
<circle cx="322.1" cy="290.67" r="1.85" fill="#de1c1c"/>
<polyline points="313.5,162.8 312.3,165.46 310.7,168.13 308.7,170.79 306.5,173.46 299.1,184.11 291,194.77 284.9,205.42 277.5,216.08 276.6,226.74 283.3,237.39 287.3,248.05 293.2,258.7 299.6,269.36 307.2,280.02 310.8,290.67" fill="none" stroke="#1a73bb" stroke-width="1.0" stroke-linejoin="round" stroke-linecap="round"/>
<circle cx="313.5" cy="162.8" r="1.85" fill="#1a73bb"/>
<circle cx="312.3" cy="165.46" r="1.85" fill="#1a73bb"/>
<circle cx="310.7" cy="168.13" r="1.85" fill="#1a73bb"/>
<circle cx="308.7" cy="170.79" r="1.85" fill="#1a73bb"/>
<circle cx="306.5" cy="173.46" r="1.85" fill="#1a73bb"/>
<circle cx="299.1" cy="184.11" r="1.85" fill="#1a73bb"/>
<circle cx="291" cy="194.77" r="1.85" fill="#1a73bb"/>
<circle cx="284.9" cy="205.42" r="1.85" fill="#1a73bb"/>
<circle cx="277.5" cy="216.08" r="1.85" fill="#1a73bb"/>
<circle cx="276.6" cy="226.74" r="1.85" fill="#1a73bb"/>
<circle cx="283.3" cy="237.39" r="1.85" fill="#1a73bb"/>
<circle cx="287.3" cy="248.05" r="1.85" fill="#1a73bb"/>
<circle cx="293.2" cy="258.7" r="1.85" fill="#1a73bb"/>
<circle cx="299.6" cy="269.36" r="1.85" fill="#1a73bb"/>
<circle cx="307.2" cy="280.02" r="1.85" fill="#1a73bb"/>
<circle cx="310.8" cy="290.67" r="1.85" fill="#1a73bb"/>
<polyline points="410.9,162.8 412.3,165.46 413.7,168.13 415.5,170.79 417.7,173.46 425.2,184.11 433.3,194.77 439.6,205.42 446.8,216.08 447.7,226.74 441,237.39 437,248.05 431.1,258.7 424.5,269.36 416.9,280.02 413.1,290.67" fill="none" stroke="#de1c1c" stroke-width="1.0" stroke-linejoin="round" stroke-linecap="round"/>
<circle cx="410.9" cy="162.8" r="1.85" fill="#de1c1c"/>
<circle cx="412.3" cy="165.46" r="1.85" fill="#de1c1c"/>
<circle cx="413.7" cy="168.13" r="1.85" fill="#de1c1c"/>
<circle cx="415.5" cy="170.79" r="1.85" fill="#de1c1c"/>
<circle cx="417.7" cy="173.46" r="1.85" fill="#de1c1c"/>
<circle cx="425.2" cy="184.11" r="1.85" fill="#de1c1c"/>
<circle cx="433.3" cy="194.77" r="1.85" fill="#de1c1c"/>
<circle cx="439.6" cy="205.42" r="1.85" fill="#de1c1c"/>
<circle cx="446.8" cy="216.08" r="1.85" fill="#de1c1c"/>
<circle cx="447.7" cy="226.74" r="1.85" fill="#de1c1c"/>
<circle cx="441" cy="237.39" r="1.85" fill="#de1c1c"/>
<circle cx="437" cy="248.05" r="1.85" fill="#de1c1c"/>
<circle cx="431.1" cy="258.7" r="1.85" fill="#de1c1c"/>
<circle cx="424.5" cy="269.36" r="1.85" fill="#de1c1c"/>
<circle cx="416.9" cy="280.02" r="1.85" fill="#de1c1c"/>
<circle cx="413.1" cy="290.67" r="1.85" fill="#de1c1c"/>
<polyline points="404.5,162.8 403.3,165.46 401.7,168.13 399.7,170.79 397.5,173.46 390.1,184.11 382,194.77 375.9,205.42 368.5,216.08 367.6,226.74 374.3,237.39 378.3,248.05 384.2,258.7 390.6,269.36 398.2,280.02 401.8,290.67" fill="none" stroke="#1a73bb" stroke-width="1.0" stroke-linejoin="round" stroke-linecap="round"/>
<circle cx="404.5" cy="162.8" r="1.85" fill="#1a73bb"/>
<circle cx="403.3" cy="165.46" r="1.85" fill="#1a73bb"/>
<circle cx="401.7" cy="168.13" r="1.85" fill="#1a73bb"/>
<circle cx="399.7" cy="170.79" r="1.85" fill="#1a73bb"/>
<circle cx="397.5" cy="173.46" r="1.85" fill="#1a73bb"/>
<circle cx="390.1" cy="184.11" r="1.85" fill="#1a73bb"/>
<circle cx="382" cy="194.77" r="1.85" fill="#1a73bb"/>
<circle cx="375.9" cy="205.42" r="1.85" fill="#1a73bb"/>
<circle cx="368.5" cy="216.08" r="1.85" fill="#1a73bb"/>
<circle cx="367.6" cy="226.74" r="1.85" fill="#1a73bb"/>
<circle cx="374.3" cy="237.39" r="1.85" fill="#1a73bb"/>
<circle cx="378.3" cy="248.05" r="1.85" fill="#1a73bb"/>
<circle cx="384.2" cy="258.7" r="1.85" fill="#1a73bb"/>
<circle cx="390.6" cy="269.36" r="1.85" fill="#1a73bb"/>
<circle cx="398.2" cy="280.02" r="1.85" fill="#1a73bb"/>
<circle cx="401.8" cy="290.67" r="1.85" fill="#1a73bb"/>
<line x1="267.7" y1="296.9" x2="457" y2="296.9" stroke="#b8b8b8" stroke-width="1.7"/>
<line x1="456.5" y1="156.5" x2="456.5" y2="297.75" stroke="#808080" stroke-width="1.0"/>
<line x1="268.2" y1="156.5" x2="268.2" y2="297.75" stroke="#a59191" stroke-width="1.0"/>
<line x1="267.7" y1="156.5" x2="457" y2="156.5" stroke="#7d6c6c" stroke-width="1.0"/>
<line x1="293.7" y1="296.6" x2="293.7" y2="298.6" stroke="#55555c" stroke-width="0.9"/>
<text transform="translate(294.3 308.4) scale(1.0 1) rotate(0.03)" font-size="10.8" text-anchor="middle" fill="#231f20" stroke="#231f20" stroke-width="0.15">0</text>
<line x1="316.45" y1="296.6" x2="316.45" y2="298.6" stroke="#55555c" stroke-width="0.9"/>
<text transform="translate(317.06 308.4) scale(1.0 1) rotate(0.03)" font-size="10.8" text-anchor="middle" fill="#231f20" stroke="#231f20" stroke-width="0.15">15</text>
<line x1="339.21" y1="296.6" x2="339.21" y2="298.6" stroke="#55555c" stroke-width="0.9"/>
<text transform="translate(339.81 308.4) scale(1.0 1) rotate(0.03)" font-size="10.8" text-anchor="middle" fill="#231f20" stroke="#231f20" stroke-width="0.15">30</text>
<line x1="361.96" y1="296.6" x2="361.96" y2="298.6" stroke="#55555c" stroke-width="0.9"/>
<text transform="translate(362.56 308.4) scale(1.0 1) rotate(0.03)" font-size="10.8" text-anchor="middle" fill="#231f20" stroke="#231f20" stroke-width="0.15">45</text>
<line x1="384.72" y1="296.6" x2="384.72" y2="298.6" stroke="#55555c" stroke-width="0.9"/>
<text transform="translate(385.32 308.4) scale(1.0 1) rotate(0.03)" font-size="10.8" text-anchor="middle" fill="#231f20" stroke="#231f20" stroke-width="0.15">60</text>
<line x1="407.47" y1="296.6" x2="407.47" y2="298.6" stroke="#55555c" stroke-width="0.9"/>
<text transform="translate(408.07 308.4) scale(1.0 1) rotate(0.03)" font-size="10.8" text-anchor="middle" fill="#231f20" stroke="#231f20" stroke-width="0.15">75</text>
<line x1="430.23" y1="296.6" x2="430.23" y2="298.6" stroke="#55555c" stroke-width="0.9"/>
<text transform="translate(430.83 308.4) scale(1.0 1) rotate(0.03)" font-size="10.8" text-anchor="middle" fill="#231f20" stroke="#231f20" stroke-width="0.15">90</text>
<line x1="266.5" y1="162.8" x2="267.7" y2="162.8" stroke="#8f8a8a" stroke-width="0.9"/>
<text transform="translate(264.8 167) scale(1.0 1) rotate(0.03)" font-size="10.4" text-anchor="end" fill="#231f20" stroke="#231f20" stroke-width="0.15">0</text>
<line x1="266.5" y1="180.56" x2="267.7" y2="180.56" stroke="#8f8a8a" stroke-width="0.9"/>
<text transform="translate(264.8 184.76) scale(1.0 1) rotate(0.03)" font-size="10.4" text-anchor="end" fill="#231f20" stroke="#231f20" stroke-width="0.15">50</text>
<line x1="266.5" y1="198.32" x2="267.7" y2="198.32" stroke="#8f8a8a" stroke-width="0.9"/>
<text transform="translate(264.8 202.52) scale(0.89 1) rotate(0.03)" font-size="10.0" text-anchor="end" fill="#231f20" stroke="#231f20" stroke-width="0.15">100</text>
<line x1="266.5" y1="216.08" x2="267.7" y2="216.08" stroke="#8f8a8a" stroke-width="0.9"/>
<text transform="translate(264.8 220.28) scale(0.89 1) rotate(0.03)" font-size="10.0" text-anchor="end" fill="#231f20" stroke="#231f20" stroke-width="0.15">150</text>
<line x1="266.5" y1="233.84" x2="267.7" y2="233.84" stroke="#8f8a8a" stroke-width="0.9"/>
<text transform="translate(264.8 238.04) scale(0.89 1) rotate(0.03)" font-size="10.0" text-anchor="end" fill="#231f20" stroke="#231f20" stroke-width="0.15">200</text>
<line x1="266.5" y1="251.6" x2="267.7" y2="251.6" stroke="#8f8a8a" stroke-width="0.9"/>
<text transform="translate(264.8 255.8) scale(0.89 1) rotate(0.03)" font-size="10.0" text-anchor="end" fill="#231f20" stroke="#231f20" stroke-width="0.15">250</text>
<line x1="266.5" y1="269.36" x2="267.7" y2="269.36" stroke="#8f8a8a" stroke-width="0.9"/>
<text transform="translate(264.8 273.56) scale(0.89 1) rotate(0.03)" font-size="10.0" text-anchor="end" fill="#231f20" stroke="#231f20" stroke-width="0.15">300</text>
<line x1="266.5" y1="287.12" x2="267.7" y2="287.12" stroke="#8f8a8a" stroke-width="0.9"/>
<text transform="translate(264.8 291.32) scale(0.89 1) rotate(0.03)" font-size="10.0" text-anchor="end" fill="#231f20" stroke="#231f20" stroke-width="0.15">350</text>
<text x="240.8" y="160.6" font-size="13.2" text-anchor="start" fill="#231f20" stroke="#231f20" stroke-width="0.2">(e)</text>
<polyline points="536.1,162.5 539.3,165.16 542.4,167.82 544.4,170.49 546.1,173.15 553.5,183.79 554.5,194.44 562.7,205.09 564.7,215.74 576.5,226.38 577,237.03 571,247.68 563.5,258.32 558.3,268.97 549.7,279.62 542.8,290.26" fill="none" stroke="#de1c1c" stroke-width="1.0" stroke-linejoin="round" stroke-linecap="round"/>
<circle cx="536.1" cy="162.5" r="1.85" fill="#de1c1c"/>
<circle cx="539.3" cy="165.16" r="1.85" fill="#de1c1c"/>
<circle cx="542.4" cy="167.82" r="1.85" fill="#de1c1c"/>
<circle cx="544.4" cy="170.49" r="1.85" fill="#de1c1c"/>
<circle cx="546.1" cy="173.15" r="1.85" fill="#de1c1c"/>
<circle cx="553.5" cy="183.79" r="1.85" fill="#de1c1c"/>
<circle cx="554.5" cy="194.44" r="1.85" fill="#de1c1c"/>
<circle cx="562.7" cy="205.09" r="1.85" fill="#de1c1c"/>
<circle cx="564.7" cy="215.74" r="1.85" fill="#de1c1c"/>
<circle cx="576.5" cy="226.38" r="1.85" fill="#de1c1c"/>
<circle cx="577" cy="237.03" r="1.85" fill="#de1c1c"/>
<circle cx="571" cy="247.68" r="1.85" fill="#de1c1c"/>
<circle cx="563.5" cy="258.32" r="1.85" fill="#de1c1c"/>
<circle cx="558.3" cy="268.97" r="1.85" fill="#de1c1c"/>
<circle cx="549.7" cy="279.62" r="1.85" fill="#de1c1c"/>
<circle cx="542.8" cy="290.26" r="1.85" fill="#de1c1c"/>
<polyline points="542.4,162.5 539.3,165.16 536.2,167.82 533.7,170.49 532.3,173.15 524.8,183.79 523.9,194.44 515.8,205.09 513.7,215.74 501.8,226.38 501.4,237.03 507.3,247.68 514.7,258.32 520.1,268.97 528.4,279.62 535.3,290.26" fill="none" stroke="#1a73bb" stroke-width="1.0" stroke-linejoin="round" stroke-linecap="round"/>
<circle cx="542.4" cy="162.5" r="1.85" fill="#1a73bb"/>
<circle cx="539.3" cy="165.16" r="1.85" fill="#1a73bb"/>
<circle cx="536.2" cy="167.82" r="1.85" fill="#1a73bb"/>
<circle cx="533.7" cy="170.49" r="1.85" fill="#1a73bb"/>
<circle cx="532.3" cy="173.15" r="1.85" fill="#1a73bb"/>
<circle cx="524.8" cy="183.79" r="1.85" fill="#1a73bb"/>
<circle cx="523.9" cy="194.44" r="1.85" fill="#1a73bb"/>
<circle cx="515.8" cy="205.09" r="1.85" fill="#1a73bb"/>
<circle cx="513.7" cy="215.74" r="1.85" fill="#1a73bb"/>
<circle cx="501.8" cy="226.38" r="1.85" fill="#1a73bb"/>
<circle cx="501.4" cy="237.03" r="1.85" fill="#1a73bb"/>
<circle cx="507.3" cy="247.68" r="1.85" fill="#1a73bb"/>
<circle cx="514.7" cy="258.32" r="1.85" fill="#1a73bb"/>
<circle cx="520.1" cy="268.97" r="1.85" fill="#1a73bb"/>
<circle cx="528.4" cy="279.62" r="1.85" fill="#1a73bb"/>
<circle cx="535.3" cy="290.26" r="1.85" fill="#1a73bb"/>
<polyline points="631.5,162.5 634.7,165.16 637.8,167.82 639.8,170.49 641.5,173.15 648.9,183.79 649.9,194.44 658.1,205.09 660.1,215.74 671.9,226.38 672.4,237.03 666.4,247.68 658.9,258.32 653.7,268.97 645.1,279.62 638.2,290.26" fill="none" stroke="#de1c1c" stroke-width="1.0" stroke-linejoin="round" stroke-linecap="round"/>
<circle cx="631.5" cy="162.5" r="1.85" fill="#de1c1c"/>
<circle cx="634.7" cy="165.16" r="1.85" fill="#de1c1c"/>
<circle cx="637.8" cy="167.82" r="1.85" fill="#de1c1c"/>
<circle cx="639.8" cy="170.49" r="1.85" fill="#de1c1c"/>
<circle cx="641.5" cy="173.15" r="1.85" fill="#de1c1c"/>
<circle cx="648.9" cy="183.79" r="1.85" fill="#de1c1c"/>
<circle cx="649.9" cy="194.44" r="1.85" fill="#de1c1c"/>
<circle cx="658.1" cy="205.09" r="1.85" fill="#de1c1c"/>
<circle cx="660.1" cy="215.74" r="1.85" fill="#de1c1c"/>
<circle cx="671.9" cy="226.38" r="1.85" fill="#de1c1c"/>
<circle cx="672.4" cy="237.03" r="1.85" fill="#de1c1c"/>
<circle cx="666.4" cy="247.68" r="1.85" fill="#de1c1c"/>
<circle cx="658.9" cy="258.32" r="1.85" fill="#de1c1c"/>
<circle cx="653.7" cy="268.97" r="1.85" fill="#de1c1c"/>
<circle cx="645.1" cy="279.62" r="1.85" fill="#de1c1c"/>
<circle cx="638.2" cy="290.26" r="1.85" fill="#de1c1c"/>
<polyline points="637.8,162.5 634.7,165.16 631.6,167.82 629.1,170.49 627.7,173.15 620.2,183.79 619.3,194.44 611.2,205.09 609.1,215.74 597.2,226.38 596.8,237.03 602.7,247.68 610.1,258.32 615.5,268.97 623.8,279.62 630.7,290.26" fill="none" stroke="#1a73bb" stroke-width="1.0" stroke-linejoin="round" stroke-linecap="round"/>
<circle cx="637.8" cy="162.5" r="1.85" fill="#1a73bb"/>
<circle cx="634.7" cy="165.16" r="1.85" fill="#1a73bb"/>
<circle cx="631.6" cy="167.82" r="1.85" fill="#1a73bb"/>
<circle cx="629.1" cy="170.49" r="1.85" fill="#1a73bb"/>
<circle cx="627.7" cy="173.15" r="1.85" fill="#1a73bb"/>
<circle cx="620.2" cy="183.79" r="1.85" fill="#1a73bb"/>
<circle cx="619.3" cy="194.44" r="1.85" fill="#1a73bb"/>
<circle cx="611.2" cy="205.09" r="1.85" fill="#1a73bb"/>
<circle cx="609.1" cy="215.74" r="1.85" fill="#1a73bb"/>
<circle cx="597.2" cy="226.38" r="1.85" fill="#1a73bb"/>
<circle cx="596.8" cy="237.03" r="1.85" fill="#1a73bb"/>
<circle cx="602.7" cy="247.68" r="1.85" fill="#1a73bb"/>
<circle cx="610.1" cy="258.32" r="1.85" fill="#1a73bb"/>
<circle cx="615.5" cy="268.97" r="1.85" fill="#1a73bb"/>
<circle cx="623.8" cy="279.62" r="1.85" fill="#1a73bb"/>
<circle cx="630.7" cy="290.26" r="1.85" fill="#1a73bb"/>
<line x1="492.1" y1="296.45" x2="681.9" y2="296.45" stroke="#beafaf" stroke-width="1.0"/>
<line x1="681.4" y1="156.5" x2="681.4" y2="296.95" stroke="#8c9194" stroke-width="1.0"/>
<line x1="492.6" y1="156.5" x2="492.6" y2="296.95" stroke="#baaaa8" stroke-width="1.0"/>
<line x1="492.1" y1="156.5" x2="681.9" y2="156.5" stroke="#736462" stroke-width="1.0"/>
<line x1="515.5" y1="296.15" x2="515.5" y2="298.15" stroke="#55555c" stroke-width="0.9"/>
<text transform="translate(515.5 309.05) scale(0.85 1) rotate(0.03)" font-size="11.0" text-anchor="middle" fill="#231f20" stroke="#231f20" stroke-width="0.15">0</text>
<line x1="539.35" y1="296.15" x2="539.35" y2="298.15" stroke="#55555c" stroke-width="0.9"/>
<text transform="translate(539.35 309.05) scale(0.85 1) rotate(0.03)" font-size="11.0" text-anchor="middle" fill="#231f20" stroke="#231f20" stroke-width="0.15">15</text>
<line x1="563.2" y1="296.15" x2="563.2" y2="298.15" stroke="#55555c" stroke-width="0.9"/>
<text transform="translate(563.2 309.05) scale(0.85 1) rotate(0.03)" font-size="11.0" text-anchor="middle" fill="#231f20" stroke="#231f20" stroke-width="0.15">30</text>
<line x1="587.05" y1="296.15" x2="587.05" y2="298.15" stroke="#55555c" stroke-width="0.9"/>
<text transform="translate(587.05 309.05) scale(0.85 1) rotate(0.03)" font-size="11.0" text-anchor="middle" fill="#231f20" stroke="#231f20" stroke-width="0.15">45</text>
<line x1="610.9" y1="296.15" x2="610.9" y2="298.15" stroke="#55555c" stroke-width="0.9"/>
<text transform="translate(610.9 309.05) scale(0.85 1) rotate(0.03)" font-size="11.0" text-anchor="middle" fill="#231f20" stroke="#231f20" stroke-width="0.15">60</text>
<line x1="634.75" y1="296.15" x2="634.75" y2="298.15" stroke="#55555c" stroke-width="0.9"/>
<text transform="translate(634.75 309.05) scale(0.85 1) rotate(0.03)" font-size="11.0" text-anchor="middle" fill="#231f20" stroke="#231f20" stroke-width="0.15">75</text>
<line x1="658.6" y1="296.15" x2="658.6" y2="298.15" stroke="#55555c" stroke-width="0.9"/>
<text transform="translate(658.6 309.05) scale(0.85 1) rotate(0.03)" font-size="11.0" text-anchor="middle" fill="#231f20" stroke="#231f20" stroke-width="0.15">90</text>
<line x1="490.9" y1="162.5" x2="493" y2="162.5" stroke="#55555c" stroke-width="0.9"/>
<text transform="translate(489.3 167.25) scale(0.85 1) rotate(0.03)" font-size="11.0" text-anchor="end" fill="#231f20" stroke="#231f20" stroke-width="0.15">0</text>
<line x1="490.9" y1="180.25" x2="493" y2="180.25" stroke="#55555c" stroke-width="0.9"/>
<text transform="translate(489.3 185) scale(0.85 1) rotate(0.03)" font-size="11.0" text-anchor="end" fill="#231f20" stroke="#231f20" stroke-width="0.15">50</text>
<line x1="490.9" y1="197.99" x2="493" y2="197.99" stroke="#55555c" stroke-width="0.9"/>
<text transform="translate(489.3 202.74) scale(0.85 1) rotate(0.03)" font-size="11.0" text-anchor="end" fill="#231f20" stroke="#231f20" stroke-width="0.15">100</text>
<line x1="490.9" y1="215.74" x2="493" y2="215.74" stroke="#55555c" stroke-width="0.9"/>
<text transform="translate(489.3 220.49) scale(0.85 1) rotate(0.03)" font-size="11.0" text-anchor="end" fill="#231f20" stroke="#231f20" stroke-width="0.15">150</text>
<line x1="490.9" y1="233.48" x2="493" y2="233.48" stroke="#55555c" stroke-width="0.9"/>
<text transform="translate(489.3 238.23) scale(0.85 1) rotate(0.03)" font-size="11.0" text-anchor="end" fill="#231f20" stroke="#231f20" stroke-width="0.15">200</text>
<line x1="490.9" y1="251.22" x2="493" y2="251.22" stroke="#55555c" stroke-width="0.9"/>
<text transform="translate(489.3 255.97) scale(0.85 1) rotate(0.03)" font-size="11.0" text-anchor="end" fill="#231f20" stroke="#231f20" stroke-width="0.15">250</text>
<line x1="490.9" y1="268.97" x2="493" y2="268.97" stroke="#55555c" stroke-width="0.9"/>
<text transform="translate(489.3 273.72) scale(0.85 1) rotate(0.03)" font-size="11.0" text-anchor="end" fill="#231f20" stroke="#231f20" stroke-width="0.15">300</text>
<line x1="490.9" y1="286.72" x2="493" y2="286.72" stroke="#55555c" stroke-width="0.9"/>
<text transform="translate(489.3 291.47) scale(0.85 1) rotate(0.03)" font-size="11.0" text-anchor="end" fill="#231f20" stroke="#231f20" stroke-width="0.15">350</text>
<text x="468.1" y="160.6" font-size="13.2" text-anchor="start" fill="#231f20" stroke="#231f20" stroke-width="0.2">(f)</text>
<polyline points="49.5,340.1 49.9,339.48 50.3,338.18 50.7,336.84 51.1,336.45 51.5,335.23 51.9,335.54 52.3,336.19 52.7,333.86 53.1,333.26 53.5,333.97 53.9,333.44 54.3,332.8 54.7,331.36 55.1,331.98 55.5,332.43 55.9,330.01 56.3,330.68 56.7,328.92 57.1,329.35 57.5,328.57 57.9,330.07 58.3,328.81 58.7,330.26 59.1,329.98 59.5,329.47 59.9,326.88 60.3,328.82 60.7,329.21 61.1,329.27 61.5,327.43 61.9,328.43 62.3,327.82 62.7,327.91 63.1,329.78 63.5,327.74 63.9,328.46 64.3,329.34 64.7,327.72 65.1,328.14 65.5,328.31 65.9,328.2 66.3,326.8 66.7,328.12 67.1,329.44 67.5,326.38 67.9,328.9 68.3,328.13 68.7,327.33 69.1,330.11 69.5,328.81 69.9,326.76 70.3,328.11 70.7,328.64 71.1,327.85 71.5,328.78 71.9,328 72.3,328.78 72.7,329.61 73.1,327.4 73.5,328.34 73.9,327.65 74.3,328.29 74.7,326.92 75.1,327.58 75.5,327.99 75.9,329.16 76.3,329.43 76.7,326.86 77.1,327.43 77.5,328.96 77.9,326.2 78.3,327.82 78.7,328.22 79.1,329.66 79.5,329.07 79.9,328.02 80.3,327.99 80.7,328.13 81.1,330.01 81.5,327.97 81.9,328.12 82.3,328.82 82.7,328.34 83.1,328.28 83.5,327.33 83.9,328.51 84.3,328.07 84.7,329.78 85.1,329.27 85.5,328.58 85.9,329.33 86.3,328.29 86.7,329.78 87.1,328.7 87.5,329.34 87.9,327.4 88.3,329.16 88.7,327.05 89.1,326.73 89.5,328.6 89.9,328.03 90.3,329.21 90.7,331.46 91.1,328.31 91.5,328.61 91.9,329.56 92.3,329.96 92.7,329.35 93.1,329.43 93.5,330.49 93.9,330.41 94.3,328.89 94.7,330.02 95.1,330.26 95.5,329.25 95.9,330.76 96.3,329.72 96.7,331.78 97.1,331.1 97.5,331.14 97.9,330.59 98.3,331.27 98.7,329.49 99.1,330.61 99.5,332.4 99.9,330.02 100.3,333.4 100.7,330.95 101.1,333.85 101.5,332.49 101.9,334.46 102.3,334.13 102.7,332.83 103.1,335.97 103.5,336.58 103.9,335.62 104.3,335.95 104.7,336.63 105.1,336.54 105.5,338.98 105.9,338.32 106.3,339.56 106.7,339.94 107.1,341.14 107.5,341.88 107.9,344.76 108.3,345.21 108.7,347.21 109.1,348.27 109.5,349.79 109.9,352.06 110.3,354.59 110.7,358.43 111.1,362.98 111.5,367.74 111.9,372.11 112.3,376.85 112.7,381.87 113.1,386.19 113.5,390.55 113.9,395.16 114.3,399.66 114.7,403.32 115.1,406.87 115.5,410.01 115.9,412.87 116.3,415.11 116.7,415.09 117.1,413.71 117.5,411.46 117.9,409.11 118.3,405.31 118.7,400.9 119.1,396.15 119.5,391.96 119.9,388.31 120.3,384.15 120.7,380.41 121.1,376.69 121.5,373.13 121.9,369.74 122.3,366.63 122.7,363.38 123.1,360.37 123.5,357.38 123.9,354.91 124.3,352.63 124.7,350.51 125.1,348.19 125.5,345.98 125.9,345.74 126.3,344.58 126.7,342.97 127.1,342.59 127.5,341.98 127.9,341.35 128.3,340.89 128.7,339.47 129.1,340.89 129.5,338.72 129.9,340.4 130.3,340.16 130.7,340.54 131.1,341.47 131.5,341.39 131.7,339.53" fill="none" stroke="#1a73bb" stroke-width="1.02" stroke-linejoin="round" stroke-linecap="round"/>
<polyline points="131.7,339.08 132.1,339.45 132.5,339.62 132.9,340.64 133.3,339.57 133.7,341.51 134.1,341.41 134.5,343.15 134.9,343.81 135.3,344.87 135.7,345.43 136.1,346.07 136.5,347.77 136.9,349.36 137.3,350.15 137.7,352.73 138.1,354.99 138.5,357.9 138.9,360.74 139.3,364.39 139.7,368.73 140.1,373.88 140.5,379.29 140.9,385.23 141.3,390.58 141.7,396.14 142.1,401.69 142.5,406.94 142.9,411.26 143.3,416.07 143.7,419.75 144.1,422.58 144.5,424.83 144.9,426.67 145.3,427.29 145.7,427.25 146.1,425.95 146.5,423.79 146.9,421 147.3,416.99 147.7,412.42 148.1,407.46 148.5,402.64 148.9,397.73 149.3,392.89 149.7,387.9 150.1,382.92 150.5,377.74 150.9,372.47 151.3,367.98 151.7,363.57 152.1,359.54 152.5,355.44 152.9,351.86 153.3,350.37 153.7,347.29 154.1,345.6 154.5,345.03 154.9,342.32 155.3,340.26 155.7,339.19 156.1,337.55 156.5,338.29 156.9,336.26 157.3,337.51 157.7,334.91 158.1,334.33 158.5,333.75 158.9,334.35 159.3,333.49 159.7,334.35 160.1,331.97 160.5,332.5 160.9,333.9 161.3,331.29 161.7,331.8 162.1,332.62 162.5,331.29 162.9,329.8 163.3,328.08 163.7,332.56 164.1,330.33 164.5,331.06 164.9,329.11 165.3,331.4 165.7,329.92 166.1,329.33 166.5,328.23 166.9,329.47 167.3,328.49 167.7,328.68 168.1,327.14 168.5,328.25 168.9,328.87 169.3,327.32 169.7,328.65 170.1,329.2 170.5,328.13 170.9,327.74 171.3,327.68 171.7,329.26 172.1,326.6 172.5,327.83 172.9,327.64 173.3,328.17 173.7,327.88 174.1,326.73 174.5,329.98 174.9,327.97 175.3,326.32 175.7,326.74 176.1,327.73 176.5,328.24 176.9,326.15 177.3,328.28 177.7,326.07 178.1,326.67 178.5,328.4 178.9,329.29 179.3,327.42 179.7,327.2 180.1,328.87 180.5,326.43 180.9,327.87 181.3,327.85 181.7,328.69 182.1,327.97 182.5,327.41 182.9,328.37 183.3,326.57 183.7,328.65 184.1,327.13 184.5,326.92 184.9,327.53 185.3,328 185.7,328.74 186.1,327.81 186.5,328.85 186.9,329.14 187.3,328.05 187.7,327.17 188.1,329.2 188.5,328.56 188.9,326.09 189.3,327.31 189.7,328.53 190.1,326.97 190.5,327.73 190.9,326.68 191.3,328.93 191.7,328.79 192.1,328.76 192.5,330.13 192.9,328.27 193.3,328.38 193.7,330.84 194.1,327.39 194.5,329.56 194.9,327.46 195.3,329.14 195.7,331.16 196.1,329.28 196.5,328.24 196.9,331.61 197.3,328.6 197.7,329.02 198.1,329.63 198.5,327.99 198.9,330.67 199.3,331.31 199.7,330.53 200.1,330.21 200.5,329.85 200.9,331.08 201.3,327 201.7,330.35 202.1,330.92 202.5,328.75 202.9,331.47 203.3,331.09 203.7,331.39 204.1,331.74 204.5,332.46 204.9,332.57 205.3,331.27 205.7,332.52 206.1,332.77 206.5,333.33 206.9,333.05 207.3,335 207.7,335.72 208.1,336.33 208.5,337.11 208.9,337.15 209.3,335.81 209.7,336.17 210.1,336.91 210.5,338.33 210.9,338.38 211.3,339.98 211.7,341.2 212.1,340.39 212.5,342.26 212.9,342.2 213.3,342.64 213.7,343.81 214.1,345.64 214.5,346.22 214.9,348.83 215.3,350.71 215.6,350.91" fill="none" stroke="#de1c1c" stroke-width="1.02" stroke-linejoin="round" stroke-linecap="round"/>
<line x1="41" y1="433.35" x2="224" y2="433.35" stroke="#dcdfe0" stroke-width="1.0"/>
<line x1="223.5" y1="321.5" x2="223.5" y2="433.85" stroke="#707074" stroke-width="1.0"/>
<line x1="41.5" y1="321.5" x2="41.5" y2="433.85" stroke="#877d7d" stroke-width="1.0"/>
<line x1="41" y1="321.5" x2="224" y2="321.5" stroke="#cfcccb" stroke-width="1.0"/>
<line x1="46.4" y1="433.05" x2="46.4" y2="435.05" stroke="#55555c" stroke-width="0.9"/>
<text transform="translate(45.9 443.45) scale(0.9 1) rotate(0.03)" font-size="10.0" text-anchor="middle" fill="#231f20" stroke="#231f20" stroke-width="0.15">0</text>
<line x1="73.42" y1="433.05" x2="73.42" y2="435.05" stroke="#55555c" stroke-width="0.9"/>
<text transform="translate(72.92 443.45) scale(0.9 1) rotate(0.03)" font-size="10.0" text-anchor="middle" fill="#231f20" stroke="#231f20" stroke-width="0.15">10</text>
<line x1="100.44" y1="433.05" x2="100.44" y2="435.05" stroke="#55555c" stroke-width="0.9"/>
<text transform="translate(99.94 443.45) scale(0.9 1) rotate(0.03)" font-size="10.0" text-anchor="middle" fill="#231f20" stroke="#231f20" stroke-width="0.15">20</text>
<line x1="127.46" y1="433.05" x2="127.46" y2="435.05" stroke="#55555c" stroke-width="0.9"/>
<text transform="translate(126.96 443.45) scale(0.9 1) rotate(0.03)" font-size="10.0" text-anchor="middle" fill="#231f20" stroke="#231f20" stroke-width="0.15">30</text>
<line x1="154.48" y1="433.05" x2="154.48" y2="435.05" stroke="#55555c" stroke-width="0.9"/>
<text transform="translate(153.98 443.45) scale(0.9 1) rotate(0.03)" font-size="10.0" text-anchor="middle" fill="#231f20" stroke="#231f20" stroke-width="0.15">40</text>
<line x1="181.5" y1="433.05" x2="181.5" y2="435.05" stroke="#55555c" stroke-width="0.9"/>
<text transform="translate(181 443.45) scale(0.9 1) rotate(0.03)" font-size="10.0" text-anchor="middle" fill="#231f20" stroke="#231f20" stroke-width="0.15">50</text>
<line x1="208.52" y1="433.05" x2="208.52" y2="435.05" stroke="#55555c" stroke-width="0.9"/>
<text transform="translate(208.02 443.45) scale(0.9 1) rotate(0.03)" font-size="10.0" text-anchor="middle" fill="#231f20" stroke="#231f20" stroke-width="0.15">60</text>
<line x1="39.8" y1="324.8" x2="41" y2="324.8" stroke="#8f8a8a" stroke-width="0.9"/>
<text transform="translate(38.2 328.8) scale(0.9 1) rotate(0.03)" font-size="10.0" text-anchor="end" fill="#231f20" stroke="#231f20" stroke-width="0.15">1.0</text>
<line x1="39.8" y1="340.85" x2="41" y2="340.85" stroke="#8f8a8a" stroke-width="0.9"/>
<text transform="translate(38.2 344.85) scale(0.9 1) rotate(0.03)" font-size="10.0" text-anchor="end" fill="#231f20" stroke="#231f20" stroke-width="0.15">0.9</text>
<line x1="39.8" y1="356.9" x2="41" y2="356.9" stroke="#8f8a8a" stroke-width="0.9"/>
<text transform="translate(38.2 360.9) scale(0.9 1) rotate(0.03)" font-size="10.0" text-anchor="end" fill="#231f20" stroke="#231f20" stroke-width="0.15">0.8</text>
<line x1="39.8" y1="372.95" x2="41" y2="372.95" stroke="#8f8a8a" stroke-width="0.9"/>
<text transform="translate(38.2 376.95) scale(0.9 1) rotate(0.03)" font-size="10.0" text-anchor="end" fill="#231f20" stroke="#231f20" stroke-width="0.15">0.7</text>
<line x1="39.8" y1="389" x2="41" y2="389" stroke="#8f8a8a" stroke-width="0.9"/>
<text transform="translate(38.2 393) scale(0.9 1) rotate(0.03)" font-size="10.0" text-anchor="end" fill="#231f20" stroke="#231f20" stroke-width="0.15">0.6</text>
<line x1="39.8" y1="405.05" x2="41" y2="405.05" stroke="#8f8a8a" stroke-width="0.9"/>
<text transform="translate(38.2 409.05) scale(0.9 1) rotate(0.03)" font-size="10.0" text-anchor="end" fill="#231f20" stroke="#231f20" stroke-width="0.15">0.5</text>
<line x1="39.8" y1="421.1" x2="41" y2="421.1" stroke="#8f8a8a" stroke-width="0.9"/>
<text transform="translate(38.2 425.1) scale(0.9 1) rotate(0.03)" font-size="10.0" text-anchor="end" fill="#231f20" stroke="#231f20" stroke-width="0.15">0.4</text>
<text x="1" y="312.3" font-size="13.2" text-anchor="start" fill="#231f20" stroke="#231f20" stroke-width="0.2">(g)</text>
<text x="14.4" y="369.43" font-size="12.85" text-anchor="middle" fill="#231f20" stroke="#231f20" stroke-width="0.2" transform="rotate(-90 14.4 369.43)">Transimission</text>
<text x="142" y="459" font-size="12.8" text-anchor="middle" fill="#231f20" stroke="#231f20" stroke-width="0.2">Frequency (MHz)</text>
<polyline points="279.9,327.58 280.3,328.48 280.7,326.74 281.1,328.79 281.5,329.21 281.9,327.74 282.3,328.52 282.7,328.33 283.1,327.73 283.5,327.3 283.9,326.23 284.3,329.31 284.7,327.99 285.1,330.29 285.5,328.76 285.9,328.26 286.3,327.41 286.7,329.25 287.1,327.54 287.5,329.41 287.9,327.65 288.3,328.19 288.7,326.67 289.1,330.17 289.5,328.01 289.9,327.78 290.3,328.89 290.7,327.4 291.1,328.93 291.5,327.23 291.9,328.82 292.3,327.44 292.7,326.77 293.1,327.93 293.5,327.2 293.9,329.06 294.3,328.62 294.7,329.1 295.1,328.76 295.5,328.39 295.9,328.76 296.3,329.71 296.7,328.61 297.1,328.11 297.5,327.93 297.9,328.6 298.3,328.12 298.7,330.48 299.1,327.72 299.5,327.79 299.9,328.47 300.3,329.31 300.7,328.46 301.1,327.82 301.5,327.93 301.9,328.31 302.3,329.47 302.7,327.69 303.1,328.45 303.5,327.95 303.9,328.76 304.3,328.79 304.7,327.07 305.1,330.51 305.5,328.49 305.9,327.83 306.3,327.45 306.7,327.98 307.1,328.21 307.5,328.68 307.9,328.12 308.3,328.52 308.7,326.6 309.1,327.33 309.5,327.06 309.9,328.07 310.3,328.29 310.7,326.51 311.1,327.63 311.5,328.39 311.9,328.52 312.3,326.65 312.7,328.12 313.1,327.89 313.5,327.16 313.9,329.3 314.3,326.51 314.7,327.25 315.1,327.91 315.5,327.72 315.9,327.36 316.3,328.77 316.7,328.86 317.1,328.4 317.5,328.51 317.9,327.6 318.3,326.64 318.7,329.69 319.1,326.91 319.5,329.82 319.9,327.75 320.3,328.12 320.7,327.8 321.1,328.87 321.5,327.6 321.9,329.76 322.3,328.63 322.7,328.36 323.1,327.74 323.5,328.57 323.9,328.38 324.3,330.15 324.7,329.35 325.1,327.18 325.5,330.03 325.9,326.59 326.3,330.19 326.7,327.19 327.1,328.97 327.5,329.78 327.9,329.12 328.3,328.22 328.7,330.41 329.1,327.78 329.5,328.15 329.9,330.8 330.3,328.86 330.7,329.94 331.1,330.53 331.5,329.78 331.9,330.21 332.3,330.14 332.7,330.3 333.1,331.25 333.5,331.1 333.9,330.63 334.3,331.25 334.7,330.03 335.1,329.93 335.5,329.82 335.9,331.54 336.3,332.42 336.7,331.17 337.1,329.46 337.5,330.94 337.9,332.02 338.3,332.12 338.7,332.25 339.1,333.42 339.5,333.75 339.9,332.2 340.3,334.22 340.7,333.72 341.1,335.05 341.5,336.4 341.9,337.38 342.3,337.04 342.7,336.72 343.1,337.48 343.5,338.82 343.9,338.55 344.3,340.04 344.7,341.42 345.1,342.66 345.5,343.2 345.9,345.23 346.3,347.69 346.7,349.55 347.1,351.5 347.5,355 347.9,358.43 348.3,361.88 348.7,365.2 349.1,368.06 349.5,371.29 349.9,374.02 350.3,376.6 350.7,379.24 351.1,381.73 351.5,383.99 351.9,385.97 352.3,387.86 352.7,390.39 353.1,391.76 353.5,392.57 353.9,392 354.3,390.26 354.7,388.28 355.1,385.9 355.5,383.87 355.9,381.07 356.3,378.66 356.7,375.86 357.1,373.04 357.5,370.37 357.9,367.62 358.3,364.9 358.7,362.31 359.1,359.9 359.5,358.18 359.9,356.15 360.3,354.75 360.7,353.55 361.1,352.98 361.5,352.14 361.9,351.81 362.3,351.25 362.7,351.03 363.1,351.6 363.5,351.46 363.9,351.44 364.3,351.57 364.3,351" fill="none" stroke="#1a73bb" stroke-width="1.02" stroke-linejoin="round" stroke-linecap="round"/>
<polyline points="364.3,350.99 364.7,351.67 365.1,352.56 365.5,353.99 365.9,355.59 366.3,357.72 366.7,360.18 367.1,362.77 367.5,365.85 367.9,369.41 368.3,373.43 368.7,377.68 369.1,382.06 369.5,386.8 369.9,391.73 370.3,396.8 370.7,401.83 371.1,406.58 371.5,411.92 371.9,416.67 372.3,420.06 372.7,422.39 373.1,424.54 373.5,426.41 373.9,427.41 374.3,427.46 374.7,426.86 375.1,425.45 375.5,423.33 375.9,420.87 376.3,417.06 376.7,411.41 377.1,405.44 377.5,399.56 377.9,394.62 378.3,389.94 378.7,385.12 379.1,380.68 379.5,376.55 379.9,372.47 380.3,368.63 380.7,365.09 381.1,362.08 381.5,359.15 381.9,356.28 382.3,353.99 382.7,351.45 383.1,348.83 383.5,347.72 383.9,345.75 384.3,343.6 384.7,343.16 385.1,341.38 385.5,340.19 385.9,339.83 386.3,336.99 386.7,336.77 387.1,336.61 387.5,336.44 387.9,335.1 388.3,334.31 388.7,333.82 389.1,334.21 389.5,334.53 389.9,332.36 390.3,331.48 390.7,332.76 391.1,332.41 391.5,331.69 391.9,332.84 392.3,332.8 392.7,331.38 393.1,331.4 393.5,332.06 393.9,331 394.3,329.97 394.7,331.03 395.1,330.14 395.5,331.12 395.9,330.24 396.3,330.41 396.7,330.93 397.1,330.24 397.5,329.68 397.9,329.24 398.3,331.6 398.7,330.95 399.1,328.5 399.5,328.82 399.9,330.2 400.3,329.06 400.7,329.52 401.1,330.15 401.5,329.45 401.9,329.14 402.3,328.75 402.7,329.03 403.1,329.38 403.5,330.52 403.9,329.85 404.3,328.65 404.7,329.59 405.1,328.81 405.5,327.32 405.9,328.5 406.3,329.44 406.7,327.96 407.1,329.3 407.5,328.14 407.9,328.39 408.3,327.25 408.7,330.15 409.1,328.65 409.5,329.11 409.9,327.76 410.3,326.81 410.7,329.18 411.1,327.42 411.5,329.51 411.9,327.84 412.3,329.43 412.7,327.28 413.1,326.32 413.5,328.51 413.9,327.8 414.3,327.84 414.7,328.77 415.1,327.02 415.5,326.63 415.9,326.73 416.3,326.26 416.7,326.13 417.1,326.59 417.5,326.86 417.9,327.31 418.3,326.62 418.7,327.57 419.1,328.35 419.5,327.46 419.9,328.02 420.3,326.8 420.7,327.87 421.1,328.01 421.5,326.99 421.9,326.18 422.3,327.37 422.7,327.52 423.1,328.79 423.5,327.12 423.9,328.95 424.3,325.32 424.7,327.18 425.1,327.01 425.5,327.1 425.9,326.96 426.3,327.4 426.7,328.91 427.1,327.32 427.5,328.53 427.9,327.41 428.3,327.61 428.7,325.43 429.1,327.65 429.5,328.15 429.9,326.63 430.3,327.14 430.7,326.96 431.1,329.64 431.5,326.93 431.9,327.2 432.3,325.47 432.7,326.52 433.1,328.15 433.5,326.88 433.9,325.6 434.3,327.84 434.7,328.23 435.1,328.42 435.5,328.56 435.9,327.74 436.3,330.81 436.7,327.88 437.1,328.82 437.5,327.36 437.9,328 438.3,327.25 438.7,328.87 439.1,328.39 439.5,327.93 439.9,327.12 440.3,329.47 440.7,329.8 441.1,329.9 441.5,329.19 441.9,330 442.3,330.33 442.7,330.12 443.1,331.11 443.5,329.87 443.9,330.39 444.3,329.06 444.7,332.48 445.1,330.17 445.5,331.36 445.9,331.86 446.3,330.82 446.5,331.62" fill="none" stroke="#de1c1c" stroke-width="1.02" stroke-linejoin="round" stroke-linecap="round"/>
<line x1="270.9" y1="433" x2="456" y2="433" stroke="#d8d2d0" stroke-width="1.0"/>
<line x1="455.5" y1="320.5" x2="455.5" y2="433.5" stroke="#b4b4b4" stroke-width="1.0"/>
<line x1="271.4" y1="320.5" x2="271.4" y2="433.5" stroke="#d0d3d8" stroke-width="1.0"/>
<line x1="270.9" y1="320.5" x2="456" y2="320.5" stroke="#c4b8b0" stroke-width="1.0"/>
<line x1="276.4" y1="432.7" x2="276.4" y2="434.7" stroke="#55555c" stroke-width="0.9"/>
<text transform="translate(276 443.3) scale(0.9 1) rotate(0.03)" font-size="10.0" text-anchor="middle" fill="#231f20" stroke="#231f20" stroke-width="0.15">0</text>
<line x1="303.53" y1="432.7" x2="303.53" y2="434.7" stroke="#55555c" stroke-width="0.9"/>
<text transform="translate(303.13 443.3) scale(0.9 1) rotate(0.03)" font-size="10.0" text-anchor="middle" fill="#231f20" stroke="#231f20" stroke-width="0.15">10</text>
<line x1="330.66" y1="432.7" x2="330.66" y2="434.7" stroke="#55555c" stroke-width="0.9"/>
<text transform="translate(330.26 443.3) scale(0.9 1) rotate(0.03)" font-size="10.0" text-anchor="middle" fill="#231f20" stroke="#231f20" stroke-width="0.15">20</text>
<line x1="357.79" y1="432.7" x2="357.79" y2="434.7" stroke="#55555c" stroke-width="0.9"/>
<text transform="translate(357.39 443.3) scale(0.9 1) rotate(0.03)" font-size="10.0" text-anchor="middle" fill="#231f20" stroke="#231f20" stroke-width="0.15">30</text>
<line x1="384.92" y1="432.7" x2="384.92" y2="434.7" stroke="#55555c" stroke-width="0.9"/>
<text transform="translate(384.52 443.3) scale(0.9 1) rotate(0.03)" font-size="10.0" text-anchor="middle" fill="#231f20" stroke="#231f20" stroke-width="0.15">40</text>
<line x1="412.05" y1="432.7" x2="412.05" y2="434.7" stroke="#55555c" stroke-width="0.9"/>
<text transform="translate(411.65 443.3) scale(0.9 1) rotate(0.03)" font-size="10.0" text-anchor="middle" fill="#231f20" stroke="#231f20" stroke-width="0.15">50</text>
<line x1="439.18" y1="432.7" x2="439.18" y2="434.7" stroke="#55555c" stroke-width="0.9"/>
<text transform="translate(438.78 443.3) scale(0.9 1) rotate(0.03)" font-size="10.0" text-anchor="middle" fill="#231f20" stroke="#231f20" stroke-width="0.15">60</text>
<line x1="269.7" y1="324.6" x2="271.8" y2="324.6" stroke="#55555c" stroke-width="0.9"/>
<text transform="translate(267.5 328.9) scale(0.9 1) rotate(0.03)" font-size="10.0" text-anchor="end" fill="#231f20" stroke="#231f20" stroke-width="0.15">1.0</text>
<line x1="269.7" y1="340.6" x2="271.8" y2="340.6" stroke="#55555c" stroke-width="0.9"/>
<text transform="translate(267.5 344.9) scale(0.9 1) rotate(0.03)" font-size="10.0" text-anchor="end" fill="#231f20" stroke="#231f20" stroke-width="0.15">0.9</text>
<line x1="269.7" y1="356.6" x2="271.8" y2="356.6" stroke="#55555c" stroke-width="0.9"/>
<text transform="translate(267.5 360.9) scale(0.9 1) rotate(0.03)" font-size="10.0" text-anchor="end" fill="#231f20" stroke="#231f20" stroke-width="0.15">0.8</text>
<line x1="269.7" y1="372.6" x2="271.8" y2="372.6" stroke="#55555c" stroke-width="0.9"/>
<text transform="translate(267.5 376.9) scale(0.9 1) rotate(0.03)" font-size="10.0" text-anchor="end" fill="#231f20" stroke="#231f20" stroke-width="0.15">0.7</text>
<line x1="269.7" y1="388.6" x2="271.8" y2="388.6" stroke="#55555c" stroke-width="0.9"/>
<text transform="translate(267.5 392.9) scale(0.9 1) rotate(0.03)" font-size="10.0" text-anchor="end" fill="#231f20" stroke="#231f20" stroke-width="0.15">0.6</text>
<line x1="269.7" y1="404.6" x2="271.8" y2="404.6" stroke="#55555c" stroke-width="0.9"/>
<text transform="translate(267.5 408.9) scale(0.9 1) rotate(0.03)" font-size="10.0" text-anchor="end" fill="#231f20" stroke="#231f20" stroke-width="0.15">0.5</text>
<line x1="269.7" y1="420.6" x2="271.8" y2="420.6" stroke="#55555c" stroke-width="0.9"/>
<text transform="translate(267.5 424.9) scale(0.9 1) rotate(0.03)" font-size="10.0" text-anchor="end" fill="#231f20" stroke="#231f20" stroke-width="0.15">0.4</text>
<text x="240.8" y="312.3" font-size="13.2" text-anchor="start" fill="#231f20" stroke="#231f20" stroke-width="0.2">(h)</text>
<text x="370.5" y="459" font-size="12.8" text-anchor="middle" fill="#231f20" stroke="#231f20" stroke-width="0.2">Frequency (MHz)</text>
<polyline points="501.2,328 501.6,327.85 502,327.7 502.4,327.55 502.8,327.4 503.2,327.26 503.6,327.12 504,326.99 504.4,326.86 504.8,326.73 505.2,326.62 505.6,326.5 506,326.4 506.4,326.3 506.8,326.2 507.2,326.12 507.6,326.04 508,325.97 508.4,325.89 508.8,325.82 509.2,325.75 509.6,325.68 510,325.61 510.4,325.55 510.8,325.49 511.2,325.43 511.6,325.37 512,325.31 512.4,325.26 512.8,325.21 513.2,325.16 513.6,325.12 514,325.07 514.4,325.03 514.8,325 515.2,324.96 515.6,324.93 516,324.9 516.4,324.87 516.8,324.84 517.2,324.82 517.6,324.79 518,324.76 518.4,324.74 518.8,324.71 519.2,324.69 519.6,324.66 520,324.64 520.4,324.62 520.8,324.6 521.2,324.58 521.6,324.56 522,324.55 522.4,324.54 522.8,324.52 523.2,324.52 523.6,324.51 524,324.5 524.4,324.5 524.8,324.5 525.2,324.5 525.6,324.51 526,324.52 526.4,324.53 526.8,324.54 527.2,324.55 527.6,324.57 528,324.59 528.4,324.61 528.8,324.63 529.2,324.65 529.6,324.67 530,324.7 530.4,324.72 530.8,324.75 531.2,324.77 531.6,324.8 532,324.82 532.4,324.85 532.8,324.87 533.2,324.89 533.6,324.92 534,324.94 534.4,324.97 534.8,324.99 535.2,325.02 535.6,325.05 536,325.08 536.4,325.11 536.8,325.14 537.2,325.17 537.6,325.2 538,325.24 538.4,325.27 538.8,325.3 539.2,325.34 539.6,325.38 540,325.41 540.4,325.45 540.8,325.49 541.2,325.53 541.6,325.57 542,325.61 542.4,325.65 542.8,325.7 543.2,325.74 543.6,325.79 544,325.83 544.4,325.88 544.8,325.93 545.2,325.98 545.6,326.03 546,326.09 546.4,326.14 546.8,326.2 547.2,326.26 547.6,326.32 548,326.38 548.4,326.44 548.8,326.5 549.2,326.57 549.6,326.63 550,326.7 550.4,326.77 550.8,326.83 551.2,326.91 551.6,326.98 552,327.05 552.4,327.12 552.8,327.2 553.2,327.28 553.6,327.36 554,327.44 554.4,327.52 554.8,327.61 555.2,327.7 555.6,327.8 556,327.89 556.4,327.99 556.8,328.1 557.2,328.2 557.6,328.31 558,328.43 558.4,328.55 558.8,328.67 559.2,328.8 559.6,328.94 560,329.09 560.4,329.25 560.8,329.42 561.2,329.6 561.6,329.79 562,330 562.4,330.21 562.8,330.43 563.2,330.66 563.6,330.9 564,331.15 564.4,331.4 564.8,331.66 565.2,331.94 565.6,332.24 566,332.56 566.4,332.9 566.8,333.26 567.2,333.65 567.6,334.07 568,334.52 568.4,335.01 568.8,335.56 569.2,336.16 569.6,336.81 570,337.51 570.4,338.25 570.8,339.05 571.2,339.88 571.6,340.78 572,341.77 572.4,342.87 572.8,344.07 573.2,345.37 573.6,346.77 574,348.29 574.4,349.96 574.8,351.88 575.2,354.18 575.6,357.1 576,361.3 576.4,366.09 576.8,370.6 577.2,374.57 577.6,378.38 578,382.14 578.4,385.95 578.8,389.96 579.2,394.39 579.6,398.84 580,402.82 580.4,405.89 580.8,408.58 581.2,410.86 581.6,412.32 582,412.89 582.4,413.3 582.8,413.49 583.2,413.47 583.6,413.33 584,413.04 584.3,412.7" fill="none" stroke="#1a73bb" stroke-width="0.95" stroke-linejoin="round" stroke-linecap="round"/>
<polyline points="584.3,412.7 584.7,411.99 585.1,411.49 585.5,411.3 585.9,411.36 586.3,411.54 586.7,411.8 587.1,412.7 587.5,414.43 587.9,416.41 588.3,418.18 588.7,420.1 589.1,421.95 589.5,423.4 589.9,424.55 590.3,425.57 590.7,426.21 591.1,426.19 591.5,425.41 591.9,424.13 592.3,422.44 592.7,419.47 593.1,415.78 593.5,411.95 593.9,407.55 594.3,402.8 594.7,398.08 595.1,393.77 595.5,389.71 595.9,385.79 596.3,382.01 596.7,378.38 597.1,374.87 597.5,371.44 597.9,368.17 598.3,365.17 598.7,362.52 599.1,360.16 599.5,357.99 599.9,355.91 600.3,353.85 600.7,351.72 601.1,349.48 601.5,347.27 601.9,345.23 602.3,343.5 602.7,342.03 603.1,340.66 603.5,339.4 603.9,338.25 604.3,337.2 604.7,336.24 605.1,335.38 605.5,334.57 605.9,333.81 606.3,333.12 606.7,332.48 607.1,331.91 607.5,331.4 607.9,330.94 608.3,330.51 608.7,330.1 609.1,329.72 609.5,329.37 609.9,329.04 610.3,328.75 610.7,328.48 611.1,328.24 611.5,328.02 611.9,327.81 612.3,327.61 612.7,327.41 613.1,327.23 613.5,327.06 613.9,326.9 614.3,326.75 614.7,326.61 615.1,326.48 615.5,326.36 615.9,326.25 616.3,326.15 616.7,326.05 617.1,325.96 617.5,325.87 617.9,325.78 618.3,325.7 618.7,325.62 619.1,325.54 619.5,325.47 619.9,325.4 620.3,325.34 620.7,325.27 621.1,325.22 621.5,325.16 621.9,325.12 622.3,325.07 622.7,325.03 623.1,325 623.5,324.97 623.9,324.94 624.3,324.91 624.7,324.88 625.1,324.85 625.5,324.82 625.9,324.79 626.3,324.77 626.7,324.74 627.1,324.71 627.5,324.69 627.9,324.67 628.3,324.65 628.7,324.63 629.1,324.61 629.5,324.59 629.9,324.57 630.3,324.56 630.7,324.54 631.1,324.53 631.5,324.52 631.9,324.51 632.3,324.51 632.7,324.5 633.1,324.5 633.5,324.5 633.9,324.5 634.3,324.5 634.7,324.5 635.1,324.51 635.5,324.51 635.9,324.51 636.3,324.52 636.7,324.53 637.1,324.53 637.5,324.54 637.9,324.55 638.3,324.55 638.7,324.56 639.1,324.57 639.5,324.58 639.9,324.59 640.3,324.6 640.7,324.61 641.1,324.62 641.5,324.63 641.9,324.64 642.3,324.65 642.7,324.67 643.1,324.68 643.5,324.69 643.9,324.7 644.3,324.72 644.7,324.74 645.1,324.75 645.5,324.78 645.9,324.8 646.3,324.83 646.7,324.86 647.1,324.89 647.5,324.92 647.9,324.95 648.3,324.99 648.7,325.02 649.1,325.06 649.5,325.1 649.9,325.14 650.3,325.18 650.7,325.22 651.1,325.26 651.5,325.31 651.9,325.35 652.3,325.39 652.7,325.44 653.1,325.48 653.5,325.52 653.9,325.57 654.3,325.61 654.7,325.65 655.1,325.7 655.5,325.74 655.9,325.79 656.3,325.84 656.7,325.89 657.1,325.94 657.5,325.99 657.9,326.04 658.3,326.09 658.7,326.15 659.1,326.2 659.5,326.26 659.9,326.32 660.3,326.38 660.7,326.44 661.1,326.51 661.5,326.57 661.9,326.64 662.3,326.71 662.7,326.78 663.1,326.86 663.5,326.93 663.9,327.01 664.3,327.1 664.7,327.19 665.1,327.28 665.5,327.37 665.9,327.47 666.3,327.57 666.7,327.67 667.1,327.78 667.5,327.89 667.9,328 668.3,328.11 668.7,328.23 669.1,328.34 669.5,328.46 669.9,328.58 670.3,328.71 670.6,328.8" fill="none" stroke="#de1c1c" stroke-width="0.95" stroke-linejoin="round" stroke-linecap="round"/>
<line x1="492.85" y1="431.6" x2="679.4" y2="431.6" stroke="#d6caca" stroke-width="1.0"/>
<line x1="678.9" y1="319.5" x2="678.9" y2="432.1" stroke="#d8d8d8" stroke-width="1.0"/>
<line x1="493.35" y1="319.5" x2="493.35" y2="432.1" stroke="#c8c6c4" stroke-width="1.0"/>
<line x1="492.85" y1="319.5" x2="679.4" y2="319.5" stroke="#bcc0c0" stroke-width="1.0"/>
<line x1="500.4" y1="431.3" x2="500.4" y2="433.3" stroke="#55555c" stroke-width="0.9"/>
<text transform="translate(500.4 443.1) scale(0.9 1) rotate(0.03)" font-size="10.0" text-anchor="middle" fill="#231f20" stroke="#231f20" stroke-width="0.15">0</text>
<line x1="527.48" y1="431.3" x2="527.48" y2="433.3" stroke="#55555c" stroke-width="0.9"/>
<text transform="translate(527.48 443.1) scale(0.9 1) rotate(0.03)" font-size="10.0" text-anchor="middle" fill="#231f20" stroke="#231f20" stroke-width="0.15">10</text>
<line x1="554.56" y1="431.3" x2="554.56" y2="433.3" stroke="#55555c" stroke-width="0.9"/>
<text transform="translate(554.56 443.1) scale(0.9 1) rotate(0.03)" font-size="10.0" text-anchor="middle" fill="#231f20" stroke="#231f20" stroke-width="0.15">20</text>
<line x1="581.64" y1="431.3" x2="581.64" y2="433.3" stroke="#55555c" stroke-width="0.9"/>
<text transform="translate(581.64 443.1) scale(0.9 1) rotate(0.03)" font-size="10.0" text-anchor="middle" fill="#231f20" stroke="#231f20" stroke-width="0.15">30</text>
<line x1="608.72" y1="431.3" x2="608.72" y2="433.3" stroke="#55555c" stroke-width="0.9"/>
<text transform="translate(608.72 443.1) scale(0.9 1) rotate(0.03)" font-size="10.0" text-anchor="middle" fill="#231f20" stroke="#231f20" stroke-width="0.15">40</text>
<line x1="635.8" y1="431.3" x2="635.8" y2="433.3" stroke="#55555c" stroke-width="0.9"/>
<text transform="translate(635.8 443.1) scale(0.9 1) rotate(0.03)" font-size="10.0" text-anchor="middle" fill="#231f20" stroke="#231f20" stroke-width="0.15">50</text>
<line x1="662.88" y1="431.3" x2="662.88" y2="433.3" stroke="#55555c" stroke-width="0.9"/>
<text transform="translate(662.88 443.1) scale(0.9 1) rotate(0.03)" font-size="10.0" text-anchor="middle" fill="#231f20" stroke="#231f20" stroke-width="0.15">60</text>
<line x1="491.65" y1="323.4" x2="493.75" y2="323.4" stroke="#55555c" stroke-width="0.9"/>
<text transform="translate(489.45 327.7) scale(0.9 1) rotate(0.03)" font-size="10.0" text-anchor="end" fill="#231f20" stroke="#231f20" stroke-width="0.15">1.0</text>
<line x1="491.65" y1="339.42" x2="493.75" y2="339.42" stroke="#55555c" stroke-width="0.9"/>
<text transform="translate(489.45 343.72) scale(0.9 1) rotate(0.03)" font-size="10.0" text-anchor="end" fill="#231f20" stroke="#231f20" stroke-width="0.15">0.9</text>
<line x1="491.65" y1="355.44" x2="493.75" y2="355.44" stroke="#55555c" stroke-width="0.9"/>
<text transform="translate(489.45 359.74) scale(0.9 1) rotate(0.03)" font-size="10.0" text-anchor="end" fill="#231f20" stroke="#231f20" stroke-width="0.15">0.8</text>
<line x1="491.65" y1="371.46" x2="493.75" y2="371.46" stroke="#55555c" stroke-width="0.9"/>
<text transform="translate(489.45 375.76) scale(0.9 1) rotate(0.03)" font-size="10.0" text-anchor="end" fill="#231f20" stroke="#231f20" stroke-width="0.15">0.7</text>
<line x1="491.65" y1="387.48" x2="493.75" y2="387.48" stroke="#55555c" stroke-width="0.9"/>
<text transform="translate(489.45 391.78) scale(0.9 1) rotate(0.03)" font-size="10.0" text-anchor="end" fill="#231f20" stroke="#231f20" stroke-width="0.15">0.6</text>
<line x1="491.65" y1="403.5" x2="493.75" y2="403.5" stroke="#55555c" stroke-width="0.9"/>
<text transform="translate(489.45 407.8) scale(0.9 1) rotate(0.03)" font-size="10.0" text-anchor="end" fill="#231f20" stroke="#231f20" stroke-width="0.15">0.5</text>
<line x1="491.65" y1="419.52" x2="493.75" y2="419.52" stroke="#55555c" stroke-width="0.9"/>
<text transform="translate(489.45 423.82) scale(0.9 1) rotate(0.03)" font-size="10.0" text-anchor="end" fill="#231f20" stroke="#231f20" stroke-width="0.15">0.4</text>
<text x="468.1" y="312.3" font-size="13.2" text-anchor="start" fill="#231f20" stroke="#231f20" stroke-width="0.2">(i)</text>
<text x="596.3" y="459" font-size="12.8" text-anchor="middle" fill="#231f20" stroke="#231f20" stroke-width="0.2">Frequency (MHz)</text>
<ellipse cx="82.2" cy="170.0" rx="26.8" ry="13.1" fill="none" stroke="#8c8c8c" stroke-width="0.85"/>
<ellipse cx="82.2" cy="282.5" rx="26.8" ry="13.1" fill="none" stroke="#8c8c8c" stroke-width="0.85"/>
<line x1="92.2" y1="158" x2="114.95" y2="137.12" stroke="#92969a" stroke-width="0.9"/>
<polygon points="118.9,133.5 115.95,139.6 114.95,137.12 112.57,135.92" fill="#8a8f94"/>
<line x1="85.2" y1="296" x2="100.79" y2="314.87" stroke="#92969a" stroke-width="0.9"/>
<polygon points="104.2,319 98.26,315.74 100.79,314.87 102.12,312.55" fill="#8a8f94"/>
</svg>
</body>
</html>
